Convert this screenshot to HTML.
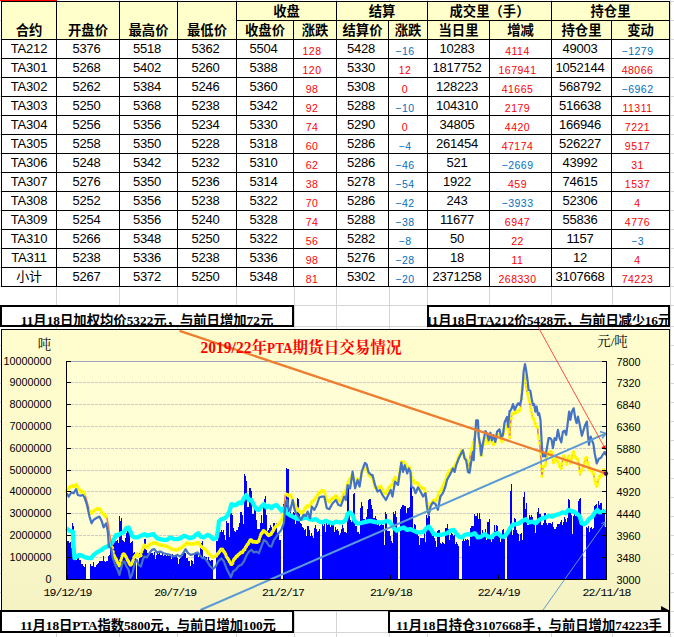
<!DOCTYPE html>
<html lang="zh"><head><meta charset="utf-8"><title>PTA期货日交易情况</title>
<style>
html,body{margin:0;padding:0;background:#fff;}
body{width:674px;height:637px;position:relative;overflow:hidden;font-family:"Liberation Sans","Noto Sans CJK SC",sans-serif;}
.abs{position:absolute;}
.c{position:absolute;box-sizing:border-box;border:1px solid #000;background:#fff;text-align:center;white-space:nowrap;overflow:hidden;font-size:13px;line-height:18px;color:#000;letter-spacing:-0.2px;}
.h{padding-top:1px;background:#ffffcc;font-family:"Liberation Sans","Noto Sans CJK SC",sans-serif;font-weight:bold;font-size:13.33px;letter-spacing:0;}
.n{padding-right:3px;letter-spacing:-0.25px;}
.r{color:#ff0000;font-size:10.5px;letter-spacing:0.5px;line-height:22px;padding-right:6px;}
.b{color:#0070c0;font-size:10.5px;letter-spacing:0.5px;line-height:22px;padding-right:6px;}
.tb{position:absolute;box-sizing:border-box;box-shadow:inset 0 0 0 2px #000;background:#fff;overflow:hidden;}
.tb span{position:absolute;left:50%;transform:translateX(-50%);white-space:nowrap;font-family:"Liberation Serif","Noto Sans CJK SC",sans-serif;font-weight:bold;font-size:13.33px;line-height:14px;color:#000;}
#chart{position:absolute;left:1px;top:329px;width:669px;height:282px;box-sizing:border-box;border:1px solid #000;background:linear-gradient(#fffdcd 0%,#fcfacb 55%,#f5f3c3 100%);}
svg text{font-family:"Liberation Sans","Noto Serif CJK SC",sans-serif;}
</style></head><body>

<svg class="abs" style="left:0;top:0" width="674" height="637" viewBox="0 0 674 637" shape-rendering="crispEdges">
<rect x="56" y="0" width="1" height="637" fill="#d4d4d4"/>
<rect x="119" y="0" width="1" height="637" fill="#d4d4d4"/>
<rect x="177" y="0" width="1" height="637" fill="#d4d4d4"/>
<rect x="236" y="0" width="1" height="637" fill="#d4d4d4"/>
<rect x="294" y="0" width="1" height="637" fill="#d4d4d4"/>
<rect x="336" y="0" width="1" height="637" fill="#d4d4d4"/>
<rect x="389" y="0" width="1" height="637" fill="#d4d4d4"/>
<rect x="427" y="0" width="1" height="637" fill="#d4d4d4"/>
<rect x="489" y="0" width="1" height="637" fill="#d4d4d4"/>
<rect x="551" y="0" width="1" height="637" fill="#d4d4d4"/>
<rect x="612" y="0" width="1" height="637" fill="#d4d4d4"/>
<rect x="670" y="0" width="1" height="637" fill="#d4d4d4"/>
<rect x="0" y="1" width="674" height="1" fill="#d4d4d4"/>
<rect x="0" y="20" width="674" height="1" fill="#d4d4d4"/>
<rect x="0" y="39" width="674" height="1" fill="#d4d4d4"/>
<rect x="0" y="58" width="674" height="1" fill="#d4d4d4"/>
<rect x="0" y="77" width="674" height="1" fill="#d4d4d4"/>
<rect x="0" y="96" width="674" height="1" fill="#d4d4d4"/>
<rect x="0" y="115" width="674" height="1" fill="#d4d4d4"/>
<rect x="0" y="134" width="674" height="1" fill="#d4d4d4"/>
<rect x="0" y="153" width="674" height="1" fill="#d4d4d4"/>
<rect x="0" y="172" width="674" height="1" fill="#d4d4d4"/>
<rect x="0" y="191" width="674" height="1" fill="#d4d4d4"/>
<rect x="0" y="210" width="674" height="1" fill="#d4d4d4"/>
<rect x="0" y="229" width="674" height="1" fill="#d4d4d4"/>
<rect x="0" y="248" width="674" height="1" fill="#d4d4d4"/>
<rect x="0" y="267" width="674" height="1" fill="#d4d4d4"/>
<rect x="0" y="286" width="674" height="1" fill="#d4d4d4"/>
<rect x="0" y="305" width="674" height="1" fill="#d4d4d4"/>
<rect x="0" y="326" width="674" height="1" fill="#d4d4d4"/>
<rect x="0" y="345" width="674" height="1" fill="#d4d4d4"/>
<rect x="0" y="364" width="674" height="1" fill="#d4d4d4"/>
<rect x="0" y="383" width="674" height="1" fill="#d4d4d4"/>
<rect x="0" y="402" width="674" height="1" fill="#d4d4d4"/>
<rect x="0" y="421" width="674" height="1" fill="#d4d4d4"/>
<rect x="0" y="440" width="674" height="1" fill="#d4d4d4"/>
<rect x="0" y="459" width="674" height="1" fill="#d4d4d4"/>
<rect x="0" y="478" width="674" height="1" fill="#d4d4d4"/>
<rect x="0" y="497" width="674" height="1" fill="#d4d4d4"/>
<rect x="0" y="516" width="674" height="1" fill="#d4d4d4"/>
<rect x="0" y="535" width="674" height="1" fill="#d4d4d4"/>
<rect x="0" y="554" width="674" height="1" fill="#d4d4d4"/>
<rect x="0" y="573" width="674" height="1" fill="#d4d4d4"/>
<rect x="0" y="592" width="674" height="1" fill="#d4d4d4"/>
<rect x="0" y="611" width="674" height="1" fill="#d4d4d4"/>
<rect x="0" y="632" width="674" height="1" fill="#d4d4d4"/>
</svg>
<div class="abs" style="left:0;top:0;width:57px;height:1px;background:#ff0000"></div>
<div class="c h" style="left:1px;top:1px;width:56px;height:39px;line-height:57px;padding-top:0;">合约</div>
<div class="c h" style="left:56px;top:1px;width:64px;height:39px;line-height:57px;padding-top:0;">开盘价</div>
<div class="c h" style="left:119px;top:1px;width:59px;height:39px;line-height:57px;padding-top:0;">最高价</div>
<div class="c h" style="left:177px;top:1px;width:60px;height:39px;line-height:57px;padding-top:0;">最低价</div>
<div class="c h" style="left:236px;top:1px;width:101px;height:20px;">收盘</div>
<div class="c h" style="left:336px;top:1px;width:92px;height:20px;">结算</div>
<div class="c h" style="left:427px;top:1px;width:125px;height:20px;">成交里（手）</div>
<div class="c h" style="left:551px;top:1px;width:119px;height:20px;">持仓里</div>
<div class="c h" style="left:236px;top:20px;width:58px;height:20px;">收盘价</div>
<div class="c h" style="left:293px;top:20px;width:44px;height:20px;">涨跌</div>
<div class="c h" style="left:336px;top:20px;width:53px;height:20px;">结算价</div>
<div class="c h" style="left:388px;top:20px;width:40px;height:20px;">涨跌</div>
<div class="c h" style="left:427px;top:20px;width:63px;height:20px;">当日里</div>
<div class="c h" style="left:489px;top:20px;width:63px;height:20px;">增减</div>
<div class="c h" style="left:551px;top:20px;width:61px;height:20px;">持仓里</div>
<div class="c h" style="left:611px;top:20px;width:59px;height:20px;">变动</div>
<div class="c " style="left:1px;top:39px;width:56px;height:20px;">TA212</div>
<div class="c n" style="left:56px;top:39px;width:64px;height:20px;">5376</div>
<div class="c n" style="left:119px;top:39px;width:59px;height:20px;">5518</div>
<div class="c n" style="left:177px;top:39px;width:60px;height:20px;">5362</div>
<div class="c n" style="left:236px;top:39px;width:58px;height:20px;">5504</div>
<div class="c r" style="left:293px;top:39px;width:44px;height:20px;">128</div>
<div class="c n" style="left:336px;top:39px;width:53px;height:20px;">5428</div>
<div class="c b" style="left:388px;top:39px;width:40px;height:20px;">−16</div>
<div class="c n" style="left:427px;top:39px;width:63px;height:20px;">10283</div>
<div class="c r" style="left:489px;top:39px;width:63px;height:20px;">4114</div>
<div class="c n" style="left:551px;top:39px;width:61px;height:20px;">49003</div>
<div class="c b" style="left:611px;top:39px;width:59px;height:20px;">−1279</div>
<div class="c " style="left:1px;top:58px;width:56px;height:20px;">TA301</div>
<div class="c n" style="left:56px;top:58px;width:64px;height:20px;">5268</div>
<div class="c n" style="left:119px;top:58px;width:59px;height:20px;">5402</div>
<div class="c n" style="left:177px;top:58px;width:60px;height:20px;">5260</div>
<div class="c n" style="left:236px;top:58px;width:58px;height:20px;">5388</div>
<div class="c r" style="left:293px;top:58px;width:44px;height:20px;">120</div>
<div class="c n" style="left:336px;top:58px;width:53px;height:20px;">5330</div>
<div class="c r" style="left:388px;top:58px;width:40px;height:20px;">12</div>
<div class="c n" style="left:427px;top:58px;width:63px;height:20px;">1817752</div>
<div class="c r" style="left:489px;top:58px;width:63px;height:20px;">167941</div>
<div class="c n" style="left:551px;top:58px;width:61px;height:20px;">1052144</div>
<div class="c r" style="left:611px;top:58px;width:59px;height:20px;">48066</div>
<div class="c " style="left:1px;top:77px;width:56px;height:20px;">TA302</div>
<div class="c n" style="left:56px;top:77px;width:64px;height:20px;">5262</div>
<div class="c n" style="left:119px;top:77px;width:59px;height:20px;">5384</div>
<div class="c n" style="left:177px;top:77px;width:60px;height:20px;">5246</div>
<div class="c n" style="left:236px;top:77px;width:58px;height:20px;">5360</div>
<div class="c r" style="left:293px;top:77px;width:44px;height:20px;">98</div>
<div class="c n" style="left:336px;top:77px;width:53px;height:20px;">5308</div>
<div class="c r" style="left:388px;top:77px;width:40px;height:20px;">0</div>
<div class="c n" style="left:427px;top:77px;width:63px;height:20px;">128223</div>
<div class="c r" style="left:489px;top:77px;width:63px;height:20px;">41665</div>
<div class="c n" style="left:551px;top:77px;width:61px;height:20px;">568792</div>
<div class="c b" style="left:611px;top:77px;width:59px;height:20px;">−6962</div>
<div class="c " style="left:1px;top:96px;width:56px;height:20px;">TA303</div>
<div class="c n" style="left:56px;top:96px;width:64px;height:20px;">5250</div>
<div class="c n" style="left:119px;top:96px;width:59px;height:20px;">5368</div>
<div class="c n" style="left:177px;top:96px;width:60px;height:20px;">5238</div>
<div class="c n" style="left:236px;top:96px;width:58px;height:20px;">5342</div>
<div class="c r" style="left:293px;top:96px;width:44px;height:20px;">92</div>
<div class="c n" style="left:336px;top:96px;width:53px;height:20px;">5288</div>
<div class="c b" style="left:388px;top:96px;width:40px;height:20px;">−10</div>
<div class="c n" style="left:427px;top:96px;width:63px;height:20px;">104310</div>
<div class="c r" style="left:489px;top:96px;width:63px;height:20px;">2179</div>
<div class="c n" style="left:551px;top:96px;width:61px;height:20px;">516638</div>
<div class="c r" style="left:611px;top:96px;width:59px;height:20px;">11311</div>
<div class="c " style="left:1px;top:115px;width:56px;height:20px;">TA304</div>
<div class="c n" style="left:56px;top:115px;width:64px;height:20px;">5256</div>
<div class="c n" style="left:119px;top:115px;width:59px;height:20px;">5356</div>
<div class="c n" style="left:177px;top:115px;width:60px;height:20px;">5234</div>
<div class="c n" style="left:236px;top:115px;width:58px;height:20px;">5330</div>
<div class="c r" style="left:293px;top:115px;width:44px;height:20px;">74</div>
<div class="c n" style="left:336px;top:115px;width:53px;height:20px;">5290</div>
<div class="c r" style="left:388px;top:115px;width:40px;height:20px;">0</div>
<div class="c n" style="left:427px;top:115px;width:63px;height:20px;">34805</div>
<div class="c r" style="left:489px;top:115px;width:63px;height:20px;">4420</div>
<div class="c n" style="left:551px;top:115px;width:61px;height:20px;">166946</div>
<div class="c r" style="left:611px;top:115px;width:59px;height:20px;">7221</div>
<div class="c " style="left:1px;top:134px;width:56px;height:20px;">TA305</div>
<div class="c n" style="left:56px;top:134px;width:64px;height:20px;">5258</div>
<div class="c n" style="left:119px;top:134px;width:59px;height:20px;">5350</div>
<div class="c n" style="left:177px;top:134px;width:60px;height:20px;">5228</div>
<div class="c n" style="left:236px;top:134px;width:58px;height:20px;">5318</div>
<div class="c r" style="left:293px;top:134px;width:44px;height:20px;">60</div>
<div class="c n" style="left:336px;top:134px;width:53px;height:20px;">5286</div>
<div class="c b" style="left:388px;top:134px;width:40px;height:20px;">−4</div>
<div class="c n" style="left:427px;top:134px;width:63px;height:20px;">261454</div>
<div class="c r" style="left:489px;top:134px;width:63px;height:20px;">47174</div>
<div class="c n" style="left:551px;top:134px;width:61px;height:20px;">526227</div>
<div class="c r" style="left:611px;top:134px;width:59px;height:20px;">9517</div>
<div class="c " style="left:1px;top:153px;width:56px;height:20px;">TA306</div>
<div class="c n" style="left:56px;top:153px;width:64px;height:20px;">5248</div>
<div class="c n" style="left:119px;top:153px;width:59px;height:20px;">5342</div>
<div class="c n" style="left:177px;top:153px;width:60px;height:20px;">5232</div>
<div class="c n" style="left:236px;top:153px;width:58px;height:20px;">5310</div>
<div class="c r" style="left:293px;top:153px;width:44px;height:20px;">62</div>
<div class="c n" style="left:336px;top:153px;width:53px;height:20px;">5286</div>
<div class="c b" style="left:388px;top:153px;width:40px;height:20px;">−46</div>
<div class="c n" style="left:427px;top:153px;width:63px;height:20px;">521</div>
<div class="c b" style="left:489px;top:153px;width:63px;height:20px;">−2669</div>
<div class="c n" style="left:551px;top:153px;width:61px;height:20px;">43992</div>
<div class="c r" style="left:611px;top:153px;width:59px;height:20px;">31</div>
<div class="c " style="left:1px;top:172px;width:56px;height:20px;">TA307</div>
<div class="c n" style="left:56px;top:172px;width:64px;height:20px;">5276</div>
<div class="c n" style="left:119px;top:172px;width:59px;height:20px;">5350</div>
<div class="c n" style="left:177px;top:172px;width:60px;height:20px;">5236</div>
<div class="c n" style="left:236px;top:172px;width:58px;height:20px;">5314</div>
<div class="c r" style="left:293px;top:172px;width:44px;height:20px;">38</div>
<div class="c n" style="left:336px;top:172px;width:53px;height:20px;">5278</div>
<div class="c b" style="left:388px;top:172px;width:40px;height:20px;">−54</div>
<div class="c n" style="left:427px;top:172px;width:63px;height:20px;">1922</div>
<div class="c r" style="left:489px;top:172px;width:63px;height:20px;">459</div>
<div class="c n" style="left:551px;top:172px;width:61px;height:20px;">74615</div>
<div class="c r" style="left:611px;top:172px;width:59px;height:20px;">1537</div>
<div class="c " style="left:1px;top:191px;width:56px;height:20px;">TA308</div>
<div class="c n" style="left:56px;top:191px;width:64px;height:20px;">5252</div>
<div class="c n" style="left:119px;top:191px;width:59px;height:20px;">5356</div>
<div class="c n" style="left:177px;top:191px;width:60px;height:20px;">5238</div>
<div class="c n" style="left:236px;top:191px;width:58px;height:20px;">5322</div>
<div class="c r" style="left:293px;top:191px;width:44px;height:20px;">70</div>
<div class="c n" style="left:336px;top:191px;width:53px;height:20px;">5286</div>
<div class="c b" style="left:388px;top:191px;width:40px;height:20px;">−42</div>
<div class="c n" style="left:427px;top:191px;width:63px;height:20px;">243</div>
<div class="c b" style="left:489px;top:191px;width:63px;height:20px;">−3933</div>
<div class="c n" style="left:551px;top:191px;width:61px;height:20px;">52306</div>
<div class="c r" style="left:611px;top:191px;width:59px;height:20px;">4</div>
<div class="c " style="left:1px;top:210px;width:56px;height:20px;">TA309</div>
<div class="c n" style="left:56px;top:210px;width:64px;height:20px;">5254</div>
<div class="c n" style="left:119px;top:210px;width:59px;height:20px;">5356</div>
<div class="c n" style="left:177px;top:210px;width:60px;height:20px;">5240</div>
<div class="c n" style="left:236px;top:210px;width:58px;height:20px;">5328</div>
<div class="c r" style="left:293px;top:210px;width:44px;height:20px;">74</div>
<div class="c n" style="left:336px;top:210px;width:53px;height:20px;">5288</div>
<div class="c b" style="left:388px;top:210px;width:40px;height:20px;">−38</div>
<div class="c n" style="left:427px;top:210px;width:63px;height:20px;">11677</div>
<div class="c r" style="left:489px;top:210px;width:63px;height:20px;">6947</div>
<div class="c n" style="left:551px;top:210px;width:61px;height:20px;">55836</div>
<div class="c r" style="left:611px;top:210px;width:59px;height:20px;">4776</div>
<div class="c " style="left:1px;top:229px;width:56px;height:20px;">TA310</div>
<div class="c n" style="left:56px;top:229px;width:64px;height:20px;">5266</div>
<div class="c n" style="left:119px;top:229px;width:59px;height:20px;">5348</div>
<div class="c n" style="left:177px;top:229px;width:60px;height:20px;">5250</div>
<div class="c n" style="left:236px;top:229px;width:58px;height:20px;">5322</div>
<div class="c r" style="left:293px;top:229px;width:44px;height:20px;">56</div>
<div class="c n" style="left:336px;top:229px;width:53px;height:20px;">5282</div>
<div class="c b" style="left:388px;top:229px;width:40px;height:20px;">−8</div>
<div class="c n" style="left:427px;top:229px;width:63px;height:20px;">50</div>
<div class="c r" style="left:489px;top:229px;width:63px;height:20px;">22</div>
<div class="c n" style="left:551px;top:229px;width:61px;height:20px;">1157</div>
<div class="c b" style="left:611px;top:229px;width:59px;height:20px;">−3</div>
<div class="c " style="left:1px;top:248px;width:56px;height:20px;">TA311</div>
<div class="c n" style="left:56px;top:248px;width:64px;height:20px;">5238</div>
<div class="c n" style="left:119px;top:248px;width:59px;height:20px;">5336</div>
<div class="c n" style="left:177px;top:248px;width:60px;height:20px;">5238</div>
<div class="c n" style="left:236px;top:248px;width:58px;height:20px;">5336</div>
<div class="c r" style="left:293px;top:248px;width:44px;height:20px;">98</div>
<div class="c n" style="left:336px;top:248px;width:53px;height:20px;">5276</div>
<div class="c b" style="left:388px;top:248px;width:40px;height:20px;">−28</div>
<div class="c n" style="left:427px;top:248px;width:63px;height:20px;">18</div>
<div class="c r" style="left:489px;top:248px;width:63px;height:20px;">11</div>
<div class="c n" style="left:551px;top:248px;width:61px;height:20px;">12</div>
<div class="c r" style="left:611px;top:248px;width:59px;height:20px;">4</div>
<div class="c " style="left:1px;top:267px;width:56px;height:20px;">小计</div>
<div class="c n" style="left:56px;top:267px;width:64px;height:20px;">5267</div>
<div class="c n" style="left:119px;top:267px;width:59px;height:20px;">5372</div>
<div class="c n" style="left:177px;top:267px;width:60px;height:20px;">5250</div>
<div class="c n" style="left:236px;top:267px;width:58px;height:20px;">5348</div>
<div class="c r" style="left:293px;top:267px;width:44px;height:20px;">81</div>
<div class="c n" style="left:336px;top:267px;width:53px;height:20px;">5302</div>
<div class="c b" style="left:388px;top:267px;width:40px;height:20px;">−20</div>
<div class="c n" style="left:427px;top:267px;width:63px;height:20px;">2371258</div>
<div class="c r" style="left:489px;top:267px;width:63px;height:20px;">268330</div>
<div class="c n" style="left:551px;top:267px;width:61px;height:20px;">3107668</div>
<div class="c r" style="left:611px;top:267px;width:59px;height:20px;">74223</div>
<div id="chart"></div>
<svg class="abs" style="left:0;top:0" width="674" height="637" viewBox="0 0 674 637">
<rect x="67" y="361" width="539" height="218" fill="#fffed4"/>
<line x1="67" y1="361.5" x2="606" y2="361.5" stroke="#9aa4bf" stroke-width="1"/>
<line x1="67" y1="382.5" x2="606" y2="382.5" stroke="#cbcbce" stroke-width="1" stroke-dasharray="3 1" shape-rendering="crispEdges"/>
<line x1="67" y1="404.5" x2="606" y2="404.5" stroke="#cbcbce" stroke-width="1" stroke-dasharray="3 1" shape-rendering="crispEdges"/>
<line x1="67" y1="426.5" x2="606" y2="426.5" stroke="#cbcbce" stroke-width="1" stroke-dasharray="3 1" shape-rendering="crispEdges"/>
<line x1="67" y1="448.5" x2="606" y2="448.5" stroke="#cbcbce" stroke-width="1" stroke-dasharray="3 1" shape-rendering="crispEdges"/>
<line x1="67" y1="470.5" x2="606" y2="470.5" stroke="#cbcbce" stroke-width="1" stroke-dasharray="3 1" shape-rendering="crispEdges"/>
<line x1="67" y1="491.5" x2="606" y2="491.5" stroke="#cbcbce" stroke-width="1" stroke-dasharray="3 1" shape-rendering="crispEdges"/>
<line x1="67" y1="513.5" x2="606" y2="513.5" stroke="#cbcbce" stroke-width="1" stroke-dasharray="3 1" shape-rendering="crispEdges"/>
<line x1="67" y1="535.5" x2="606" y2="535.5" stroke="#cbcbce" stroke-width="1" stroke-dasharray="3 1" shape-rendering="crispEdges"/>
<line x1="67" y1="557.5" x2="606" y2="557.5" stroke="#cbcbce" stroke-width="1" stroke-dasharray="3 1" shape-rendering="crispEdges"/>
<path d="M67.00 579V540.6h0.9V579zM67.77 579V541.2h0.9V579zM68.54 579V545.8h0.9V579zM69.31 579V543.2h0.9V579zM70.08 579V542.0h0.9V579zM70.85 579V547.8h0.9V579zM71.62 579V529.8h0.9V579zM72.39 579V523.4h0.9V579zM73.16 579V526.3h0.9V579zM73.93 579V556.2h0.9V579zM74.70 579V557.6h0.9V579zM75.47 579V564.8h0.9V579zM76.24 579V559.6h0.9V579zM77.01 579V557.9h0.9V579zM77.78 579V558.0h0.9V579zM78.55 579V558.8h0.9V579zM79.32 579V560.3h0.9V579zM80.09 579V560.4h0.9V579zM80.86 579V563.5h0.9V579zM81.63 579V568.1h0.9V579zM82.40 579V563.7h0.9V579zM83.17 579V565.8h0.9V579zM83.94 579V566.6h0.9V579zM84.71 579V564.3h0.9V579zM85.48 579V564.4h0.9V579zM90.10 579V564.2h0.9V579zM90.87 579V565.7h0.9V579zM91.64 579V565.9h0.9V579zM92.41 579V566.1h0.9V579zM93.18 579V561.8h0.9V579zM93.95 579V567.2h0.9V579zM94.72 579V567.4h0.9V579zM95.49 579V568.7h0.9V579zM96.26 579V565.4h0.9V579zM97.03 579V563.7h0.9V579zM97.80 579V563.2h0.9V579zM98.57 579V563.9h0.9V579zM99.34 579V561.1h0.9V579zM100.11 579V560.5h0.9V579zM100.88 579V560.8h0.9V579zM101.65 579V561.1h0.9V579zM102.42 579V560.6h0.9V579zM103.19 579V555.8h0.9V579zM103.96 579V560.8h0.9V579zM104.73 579V561.6h0.9V579zM105.50 579V560.3h0.9V579zM106.27 579V561.0h0.9V579zM107.04 579V561.2h0.9V579zM107.81 579V556.1h0.9V579zM108.58 579V551.2h0.9V579zM109.35 579V555.2h0.9V579zM110.12 579V547.3h0.9V579zM110.89 579V543.9h0.9V579zM111.66 579V539.2h0.9V579zM112.43 579V541.1h0.9V579zM113.20 579V538.5h0.9V579zM113.97 579V537.3h0.9V579zM114.74 579V540.6h0.9V579zM115.51 579V540.9h0.9V579zM116.28 579V540.5h0.9V579zM117.05 579V540.2h0.9V579zM117.82 579V543.4h0.9V579zM118.59 579V540.4h0.9V579zM119.36 579V516.0h0.9V579zM120.13 579V521.2h0.9V579zM120.90 579V518.1h0.9V579zM121.67 579V544.1h0.9V579zM122.44 579V540.0h0.9V579zM123.21 579V541.2h0.9V579zM123.98 579V541.6h0.9V579zM124.75 579V538.1h0.9V579zM125.52 579V531.7h0.9V579zM126.29 579V532.8h0.9V579zM127.06 579V531.2h0.9V579zM127.83 579V531.5h0.9V579zM128.60 579V530.2h0.9V579zM129.37 579V541.4h0.9V579zM130.14 579V542.6h0.9V579zM130.91 579V542.0h0.9V579zM131.68 579V540.8h0.9V579zM132.45 579V555.2h0.9V579zM133.22 579V553.2h0.9V579zM133.99 579V551.5h0.9V579zM134.76 579V556.4h0.9V579zM137.07 579V562.4h0.9V579zM137.84 579V562.3h0.9V579zM138.61 579V557.0h0.9V579zM139.38 579V553.4h0.9V579zM140.15 579V556.1h0.9V579zM140.92 579V555.6h0.9V579zM141.69 579V551.7h0.9V579zM142.46 579V546.2h0.9V579zM143.23 579V549.1h0.9V579zM144.00 579V539.0h0.9V579zM144.77 579V538.5h0.9V579zM145.54 579V543.4h0.9V579zM146.31 579V549.9h0.9V579zM147.08 579V552.6h0.9V579zM147.85 579V554.4h0.9V579zM148.62 579V553.3h0.9V579zM149.39 579V553.7h0.9V579zM150.16 579V552.9h0.9V579zM150.93 579V552.5h0.9V579zM151.70 579V553.5h0.9V579zM152.47 579V552.6h0.9V579zM153.24 579V555.4h0.9V579zM154.01 579V551.8h0.9V579zM154.78 579V558.8h0.9V579zM155.55 579V553.7h0.9V579zM156.32 579V554.6h0.9V579zM157.09 579V552.4h0.9V579zM157.86 579V554.3h0.9V579zM158.63 579V558.4h0.9V579zM159.40 579V553.3h0.9V579zM160.17 579V554.6h0.9V579zM160.94 579V555.2h0.9V579zM161.71 579V552.9h0.9V579zM162.48 579V551.5h0.9V579zM163.25 579V555.7h0.9V579zM164.02 579V555.2h0.9V579zM164.79 579V555.4h0.9V579zM165.56 579V550.6h0.9V579zM166.33 579V555.6h0.9V579zM167.10 579V554.9h0.9V579zM167.87 579V556.2h0.9V579zM168.64 579V555.8h0.9V579zM169.41 579V555.6h0.9V579zM170.18 579V554.3h0.9V579zM170.95 579V558.7h0.9V579zM171.72 579V555.2h0.9V579zM172.49 579V554.3h0.9V579zM173.26 579V555.3h0.9V579zM174.03 579V556.7h0.9V579zM174.80 579V556.4h0.9V579zM175.57 579V556.8h0.9V579zM176.34 579V555.7h0.9V579zM177.11 579V557.5h0.9V579zM177.88 579V563.6h0.9V579zM178.65 579V558.5h0.9V579zM179.42 579V558.8h0.9V579zM180.19 579V557.6h0.9V579zM180.96 579V556.8h0.9V579zM181.73 579V556.2h0.9V579zM182.50 579V556.1h0.9V579zM183.27 579V554.3h0.9V579zM184.04 579V552.5h0.9V579zM184.81 579V552.7h0.9V579zM185.58 579V550.3h0.9V579zM186.35 579V558.0h0.9V579zM187.12 579V557.8h0.9V579zM187.89 579V560.6h0.9V579zM188.66 579V562.2h0.9V579zM189.43 579V561.3h0.9V579zM190.20 579V566.1h0.9V579zM190.97 579V560.3h0.9V579zM191.74 579V561.0h0.9V579zM192.51 579V561.8h0.9V579zM193.28 579V563.5h0.9V579zM194.05 579V555.3h0.9V579zM194.82 579V554.3h0.9V579zM195.59 579V550.7h0.9V579zM196.36 579V554.1h0.9V579zM197.13 579V554.4h0.9V579zM197.90 579V557.2h0.9V579zM198.67 579V556.3h0.9V579zM199.44 579V555.8h0.9V579zM200.21 579V547.6h0.9V579zM200.98 579V543.1h0.9V579zM201.75 579V541.1h0.9V579zM202.52 579V551.9h0.9V579zM203.29 579V559.1h0.9V579zM204.06 579V556.2h0.9V579zM204.83 579V557.1h0.9V579zM205.60 579V559.5h0.9V579zM206.37 579V556.9h0.9V579zM207.14 579V559.5h0.9V579zM207.91 579V557.2h0.9V579zM208.68 579V559.8h0.9V579zM209.45 579V559.5h0.9V579zM210.22 579V560.9h0.9V579zM210.99 579V559.7h0.9V579zM211.76 579V559.9h0.9V579zM212.53 579V561.4h0.9V579zM215.61 579V543.3h0.9V579zM216.38 579V541.2h0.9V579zM217.15 579V541.0h0.9V579zM217.92 579V536.7h0.9V579zM218.69 579V532.4h0.9V579zM219.46 579V530.5h0.9V579zM220.23 579V532.2h0.9V579zM221.00 579V529.5h0.9V579zM221.77 579V532.0h0.9V579zM222.54 579V532.0h0.9V579zM223.31 579V530.4h0.9V579zM224.08 579V535.2h0.9V579zM224.85 579V539.7h0.9V579zM225.62 579V521.4h0.9V579zM226.39 579V523.1h0.9V579zM227.16 579V523.3h0.9V579zM227.93 579V522.5h0.9V579zM228.70 579V537.0h0.9V579zM229.47 579V536.5h0.9V579zM230.24 579V512.4h0.9V579zM231.01 579V512.6h0.9V579zM231.78 579V514.7h0.9V579zM232.55 579V511.7h0.9V579zM233.32 579V528.2h0.9V579zM234.09 579V530.6h0.9V579zM234.86 579V532.4h0.9V579zM235.63 579V533.6h0.9V579zM236.40 579V530.1h0.9V579zM237.17 579V530.4h0.9V579zM237.94 579V527.3h0.9V579zM238.71 579V533.6h0.9V579zM239.48 579V523.3h0.9V579zM240.25 579V511.9h0.9V579zM241.02 579V511.5h0.9V579zM241.79 579V515.1h0.9V579zM242.56 579V526.4h0.9V579zM243.33 579V523.7h0.9V579zM244.10 579V473.9h0.9V579zM244.87 579V475.9h0.9V579zM245.64 579V480.7h0.9V579zM246.41 579V514.8h0.9V579zM247.18 579V506.9h0.9V579zM247.95 579V507.4h0.9V579zM248.72 579V525.4h0.9V579zM249.49 579V487.5h0.9V579zM250.26 579V487.6h0.9V579zM251.03 579V490.9h0.9V579zM251.80 579V513.6h0.9V579zM252.57 579V514.9h0.9V579zM253.34 579V513.8h0.9V579zM254.11 579V509.2h0.9V579zM254.88 579V508.5h0.9V579zM255.65 579V523.6h0.9V579zM256.42 579V520.1h0.9V579zM257.19 579V529.1h0.9V579zM257.96 579V529.0h0.9V579zM258.73 579V529.4h0.9V579zM259.50 579V536.4h0.9V579zM260.27 579V523.3h0.9V579zM261.04 579V514.7h0.9V579zM261.81 579V523.1h0.9V579zM262.58 579V515.5h0.9V579zM263.35 579V501.9h0.9V579zM264.12 579V498.6h0.9V579zM264.89 579V495.9h0.9V579zM265.66 579V517.9h0.9V579zM266.43 579V514.9h0.9V579zM267.20 579V530.5h0.9V579zM267.97 579V529.7h0.9V579zM268.74 579V527.9h0.9V579zM269.51 579V520.0h0.9V579zM270.28 579V525.1h0.9V579zM271.05 579V527.4h0.9V579zM271.82 579V529.7h0.9V579zM272.59 579V530.5h0.9V579zM273.36 579V522.8h0.9V579zM274.13 579V522.5h0.9V579zM274.90 579V527.1h0.9V579zM275.67 579V522.5h0.9V579zM276.44 579V527.6h0.9V579zM277.21 579V532.5h0.9V579zM277.98 579V531.7h0.9V579zM278.75 579V539.5h0.9V579zM279.52 579V543.5h0.9V579zM280.29 579V539.6h0.9V579zM283.37 579V503.9h0.9V579zM284.14 579V503.8h0.9V579zM284.91 579V504.3h0.9V579zM285.68 579V491.7h0.9V579zM286.45 579V468.0h0.9V579zM287.22 579V469.4h0.9V579zM287.99 579V469.1h0.9V579zM288.76 579V513.0h0.9V579zM289.53 579V511.8h0.9V579zM290.30 579V512.2h0.9V579zM291.07 579V514.4h0.9V579zM291.84 579V514.4h0.9V579zM292.61 579V512.2h0.9V579zM293.38 579V514.1h0.9V579zM294.15 579V513.2h0.9V579zM294.92 579V523.6h0.9V579zM295.69 579V520.0h0.9V579zM296.46 579V520.9h0.9V579zM297.23 579V498.1h0.9V579zM298.00 579V498.8h0.9V579zM298.77 579V509.7h0.9V579zM299.54 579V533.1h0.9V579zM300.31 579V522.5h0.9V579zM301.08 579V523.8h0.9V579zM301.85 579V526.8h0.9V579zM302.62 579V536.7h0.9V579zM303.39 579V527.5h0.9V579zM304.16 579V529.9h0.9V579zM304.93 579V529.0h0.9V579zM305.70 579V542.4h0.9V579zM306.47 579V535.8h0.9V579zM307.24 579V525.9h0.9V579zM308.01 579V526.0h0.9V579zM308.78 579V529.8h0.9V579zM309.55 579V537.8h0.9V579zM310.32 579V536.0h0.9V579zM311.09 579V532.6h0.9V579zM311.86 579V535.6h0.9V579zM312.63 579V539.3h0.9V579zM313.40 579V538.1h0.9V579zM314.17 579V528.1h0.9V579zM314.94 579V525.1h0.9V579zM315.71 579V528.8h0.9V579zM316.48 579V529.5h0.9V579zM317.25 579V532.1h0.9V579zM318.02 579V531.3h0.9V579zM318.79 579V529.0h0.9V579zM319.56 579V532.4h0.9V579zM321.87 579V523.2h0.9V579zM322.64 579V525.5h0.9V579zM323.41 579V525.5h0.9V579zM324.18 579V524.0h0.9V579zM324.95 579V531.8h0.9V579zM325.72 579V520.6h0.9V579zM326.49 579V525.9h0.9V579zM327.26 579V524.8h0.9V579zM328.03 579V524.1h0.9V579zM328.80 579V524.1h0.9V579zM329.57 579V528.9h0.9V579zM330.34 579V526.6h0.9V579zM331.11 579V524.2h0.9V579zM331.88 579V520.5h0.9V579zM332.65 579V521.5h0.9V579zM333.42 579V531.8h0.9V579zM334.19 579V531.8h0.9V579zM334.96 579V527.1h0.9V579zM335.73 579V529.8h0.9V579zM336.50 579V529.0h0.9V579zM337.27 579V528.5h0.9V579zM338.04 579V530.8h0.9V579zM338.81 579V535.3h0.9V579zM339.58 579V536.2h0.9V579zM340.35 579V533.0h0.9V579zM341.12 579V529.2h0.9V579zM341.89 579V525.2h0.9V579zM342.66 579V528.0h0.9V579zM343.43 579V528.3h0.9V579zM344.20 579V532.0h0.9V579zM344.97 579V532.2h0.9V579zM345.74 579V532.5h0.9V579zM346.51 579V488.3h0.9V579zM347.28 579V484.0h0.9V579zM348.05 579V487.3h0.9V579zM348.82 579V514.7h0.9V579zM349.59 579V523.0h0.9V579zM350.36 579V519.7h0.9V579zM351.13 579V521.9h0.9V579zM351.90 579V518.8h0.9V579zM352.67 579V495.4h0.9V579zM353.44 579V493.9h0.9V579zM354.21 579V492.8h0.9V579zM354.98 579V525.8h0.9V579zM355.75 579V525.9h0.9V579zM356.52 579V526.9h0.9V579zM357.29 579V531.7h0.9V579zM358.06 579V532.3h0.9V579zM358.83 579V533.5h0.9V579zM359.60 579V509.6h0.9V579zM360.37 579V508.1h0.9V579zM361.14 579V502.3h0.9V579zM361.91 579V506.3h0.9V579zM362.68 579V518.5h0.9V579zM363.45 579V523.0h0.9V579zM364.22 579V518.7h0.9V579zM364.99 579V519.6h0.9V579zM365.76 579V516.5h0.9V579zM366.53 579V516.8h0.9V579zM367.30 579V508.9h0.9V579zM368.07 579V500.2h0.9V579zM368.84 579V498.5h0.9V579zM369.61 579V499.2h0.9V579zM370.38 579V500.3h0.9V579zM371.15 579V505.1h0.9V579zM371.92 579V509.0h0.9V579zM372.69 579V518.0h0.9V579zM373.46 579V518.9h0.9V579zM374.23 579V518.4h0.9V579zM375.00 579V516.4h0.9V579zM375.77 579V519.1h0.9V579zM376.54 579V519.7h0.9V579zM377.31 579V524.7h0.9V579zM378.08 579V520.7h0.9V579zM378.85 579V526.2h0.9V579zM379.62 579V525.4h0.9V579zM380.39 579V526.2h0.9V579zM381.16 579V524.0h0.9V579zM381.93 579V525.0h0.9V579zM382.70 579V524.9h0.9V579zM383.47 579V524.8h0.9V579zM384.24 579V545.4h0.9V579zM385.01 579V512.3h0.9V579zM385.78 579V514.3h0.9V579zM386.55 579V510.8h0.9V579zM387.32 579V531.1h0.9V579zM388.09 579V530.9h0.9V579zM388.86 579V531.3h0.9V579zM389.63 579V535.5h0.9V579zM390.40 579V536.0h0.9V579zM391.17 579V540.9h0.9V579zM391.94 579V543.2h0.9V579zM392.71 579V532.9h0.9V579zM393.48 579V512.4h0.9V579zM394.25 579V513.7h0.9V579zM395.02 579V511.2h0.9V579zM395.79 579V517.2h0.9V579zM396.56 579V517.8h0.9V579zM397.33 579V530.5h0.9V579zM399.64 579V527.4h0.9V579zM400.41 579V509.0h0.9V579zM401.18 579V506.7h0.9V579zM401.95 579V504.8h0.9V579zM402.72 579V505.2h0.9V579zM403.49 579V505.0h0.9V579zM404.26 579V506.2h0.9V579zM405.03 579V505.5h0.9V579zM405.80 579V513.2h0.9V579zM406.57 579V513.7h0.9V579zM407.34 579V508.1h0.9V579zM408.11 579V508.0h0.9V579zM408.88 579V506.9h0.9V579zM409.65 579V525.5h0.9V579zM410.42 579V473.4h0.9V579zM411.19 579V472.6h0.9V579zM411.96 579V496.0h0.9V579zM412.73 579V528.1h0.9V579zM413.50 579V527.8h0.9V579zM414.27 579V523.5h0.9V579zM415.04 579V525.2h0.9V579zM415.81 579V530.3h0.9V579zM416.58 579V535.4h0.9V579zM417.35 579V533.5h0.9V579zM418.12 579V535.9h0.9V579zM418.89 579V544.6h0.9V579zM419.66 579V537.9h0.9V579zM420.43 579V537.8h0.9V579zM421.20 579V537.6h0.9V579zM421.97 579V537.8h0.9V579zM422.74 579V538.0h0.9V579zM423.51 579V536.0h0.9V579zM424.28 579V529.8h0.9V579zM425.05 579V541.8h0.9V579zM425.82 579V514.9h0.9V579zM426.59 579V517.4h0.9V579zM427.36 579V518.3h0.9V579zM428.13 579V514.8h0.9V579zM428.90 579V516.1h0.9V579zM429.67 579V531.2h0.9V579zM430.44 579V533.1h0.9V579zM431.21 579V533.4h0.9V579zM431.98 579V536.2h0.9V579zM432.75 579V531.8h0.9V579zM433.52 579V537.1h0.9V579zM434.29 579V537.8h0.9V579zM435.06 579V541.1h0.9V579zM435.83 579V547.3h0.9V579zM436.60 579V534.3h0.9V579zM437.37 579V531.0h0.9V579zM438.14 579V530.2h0.9V579zM438.91 579V529.9h0.9V579zM439.68 579V542.5h0.9V579zM440.45 579V549.1h0.9V579zM441.22 579V544.0h0.9V579zM441.99 579V541.6h0.9V579zM442.76 579V543.4h0.9V579zM443.53 579V543.0h0.9V579zM444.30 579V544.2h0.9V579zM445.07 579V528.2h0.9V579zM445.84 579V528.3h0.9V579zM446.61 579V530.5h0.9V579zM447.38 579V524.4h0.9V579zM448.15 579V529.4h0.9V579zM448.92 579V539.7h0.9V579zM449.69 579V534.7h0.9V579zM450.46 579V535.2h0.9V579zM451.23 579V533.0h0.9V579zM452.00 579V533.7h0.9V579zM452.77 579V535.8h0.9V579zM453.54 579V534.5h0.9V579zM454.31 579V535.1h0.9V579zM455.08 579V543.8h0.9V579zM455.85 579V542.0h0.9V579zM456.62 579V543.8h0.9V579zM457.39 579V546.3h0.9V579zM458.16 579V545.8h0.9V579zM462.01 579V540.8h0.9V579zM462.78 579V538.8h0.9V579zM463.55 579V541.0h0.9V579zM464.32 579V540.7h0.9V579zM465.09 579V539.2h0.9V579zM465.86 579V540.3h0.9V579zM466.63 579V545.7h0.9V579zM467.40 579V538.6h0.9V579zM468.17 579V539.5h0.9V579zM468.94 579V545.5h0.9V579zM469.71 579V548.6h0.9V579zM470.48 579V527.7h0.9V579zM471.25 579V525.6h0.9V579zM472.02 579V526.0h0.9V579zM472.79 579V526.3h0.9V579zM473.56 579V531.0h0.9V579zM474.33 579V514.3h0.9V579zM475.10 579V516.0h0.9V579zM475.87 579V516.2h0.9V579zM476.64 579V518.3h0.9V579zM477.41 579V512.6h0.9V579zM478.18 579V518.6h0.9V579zM478.95 579V513.0h0.9V579zM479.72 579V518.6h0.9V579zM480.49 579V533.6h0.9V579zM481.26 579V534.4h0.9V579zM482.03 579V530.3h0.9V579zM482.80 579V532.8h0.9V579zM483.57 579V534.7h0.9V579zM484.34 579V532.6h0.9V579zM485.11 579V529.3h0.9V579zM485.88 579V539.6h0.9V579zM486.65 579V534.4h0.9V579zM487.42 579V521.6h0.9V579zM488.19 579V522.2h0.9V579zM488.96 579V519.4h0.9V579zM489.73 579V538.1h0.9V579zM490.50 579V539.2h0.9V579zM491.27 579V541.7h0.9V579zM492.04 579V537.4h0.9V579zM492.81 579V539.0h0.9V579zM493.58 579V532.3h0.9V579zM494.35 579V524.8h0.9V579zM495.12 579V530.6h0.9V579zM495.89 579V525.2h0.9V579zM496.66 579V525.8h0.9V579zM497.43 579V535.1h0.9V579zM498.20 579V535.2h0.9V579zM498.97 579V536.7h0.9V579zM499.74 579V541.7h0.9V579zM500.51 579V537.7h0.9V579zM501.28 579V534.2h0.9V579zM502.05 579V529.8h0.9V579zM502.82 579V529.4h0.9V579zM503.59 579V537.2h0.9V579zM504.36 579V539.1h0.9V579zM506.67 579V549.2h0.9V579zM507.44 579V532.3h0.9V579zM508.21 579V532.7h0.9V579zM508.98 579V532.0h0.9V579zM509.75 579V490.9h0.9V579zM510.52 579V483.2h0.9V579zM511.29 579V483.5h0.9V579zM512.06 579V535.1h0.9V579zM512.83 579V530.3h0.9V579zM513.60 579V518.3h0.9V579zM514.37 579V518.2h0.9V579zM515.14 579V519.2h0.9V579zM515.91 579V529.5h0.9V579zM516.68 579V533.3h0.9V579zM517.45 579V539.4h0.9V579zM518.22 579V534.2h0.9V579zM518.99 579V541.0h0.9V579zM519.76 579V534.1h0.9V579zM520.53 579V533.6h0.9V579zM521.30 579V532.7h0.9V579zM522.07 579V540.1h0.9V579zM522.84 579V496.7h0.9V579zM523.61 579V491.9h0.9V579zM524.38 579V496.7h0.9V579zM525.15 579V509.4h0.9V579zM525.92 579V502.5h0.9V579zM526.69 579V525.3h0.9V579zM527.46 579V528.6h0.9V579zM528.23 579V524.7h0.9V579zM529.00 579V514.6h0.9V579zM529.77 579V517.3h0.9V579zM530.54 579V517.8h0.9V579zM531.31 579V514.8h0.9V579zM532.08 579V516.9h0.9V579zM532.85 579V523.8h0.9V579zM533.62 579V528.2h0.9V579zM534.39 579V525.1h0.9V579zM535.16 579V532.9h0.9V579zM535.93 579V525.4h0.9V579zM536.70 579V512.0h0.9V579zM537.47 579V513.4h0.9V579zM538.24 579V507.8h0.9V579zM539.01 579V513.6h0.9V579zM539.78 579V513.5h0.9V579zM540.55 579V522.2h0.9V579zM541.32 579V524.8h0.9V579zM542.09 579V525.4h0.9V579zM542.86 579V523.3h0.9V579zM543.63 579V513.0h0.9V579zM544.40 579V515.9h0.9V579zM545.17 579V513.1h0.9V579zM545.94 579V522.6h0.9V579zM546.71 579V524.5h0.9V579zM547.48 579V528.3h0.9V579zM548.25 579V523.3h0.9V579zM549.02 579V522.5h0.9V579zM549.79 579V523.2h0.9V579zM550.56 579V523.4h0.9V579zM551.33 579V524.2h0.9V579zM552.10 579V521.7h0.9V579zM552.87 579V526.5h0.9V579zM553.64 579V529.9h0.9V579zM554.41 579V529.4h0.9V579zM555.18 579V529.1h0.9V579zM555.95 579V526.8h0.9V579zM556.72 579V524.4h0.9V579zM557.49 579V524.8h0.9V579zM558.26 579V523.7h0.9V579zM559.03 579V524.1h0.9V579zM559.80 579V522.1h0.9V579zM560.57 579V519.9h0.9V579zM561.34 579V520.1h0.9V579zM562.11 579V524.8h0.9V579zM562.88 579V521.5h0.9V579zM563.65 579V516.6h0.9V579zM564.42 579V533.5h0.9V579zM565.19 579V519.4h0.9V579zM565.96 579V522.1h0.9V579zM566.73 579V517.8h0.9V579zM567.50 579V499.0h0.9V579zM568.27 579V499.0h0.9V579zM569.04 579V500.3h0.9V579zM569.81 579V510.3h0.9V579zM570.58 579V517.0h0.9V579zM571.35 579V514.7h0.9V579zM572.12 579V533.9h0.9V579zM572.89 579V516.1h0.9V579zM573.66 579V513.0h0.9V579zM574.43 579V521.8h0.9V579zM575.20 579V515.6h0.9V579zM575.97 579V514.3h0.9V579zM576.74 579V513.0h0.9V579zM577.51 579V518.5h0.9V579zM578.28 579V500.7h0.9V579zM579.05 579V499.4h0.9V579zM579.82 579V498.2h0.9V579zM580.59 579V504.2h0.9V579zM581.36 579V524.7h0.9V579zM582.13 579V522.9h0.9V579zM585.98 579V527.1h0.9V579zM586.75 579V528.0h0.9V579zM587.52 579V528.8h0.9V579zM588.29 579V525.8h0.9V579zM589.06 579V531.7h0.9V579zM589.83 579V528.2h0.9V579zM590.60 579V526.6h0.9V579zM591.37 579V526.7h0.9V579zM592.14 579V529.2h0.9V579zM592.91 579V528.2h0.9V579zM593.68 579V506.4h0.9V579zM594.45 579V510.2h0.9V579zM595.22 579V504.9h0.9V579zM595.99 579V503.8h0.9V579zM596.76 579V512.5h0.9V579zM597.53 579V515.3h0.9V579zM598.30 579V501.4h0.9V579zM599.07 579V504.6h0.9V579zM599.84 579V502.8h0.9V579zM600.61 579V502.9h0.9V579zM601.38 579V517.2h0.9V579zM602.15 579V510.3h0.9V579zM602.92 579V508.8h0.9V579zM603.69 579V509.9h0.9V579zM604.46 579V525.1h0.9V579zM605.23 579V526.7h0.9V579zM606.00 579V523.2h0.9V579z" fill="#0000ff" shape-rendering="crispEdges"/>
<path d="M66.2 528.3 L69.5 530.7 L72.8 531.6 L73.6 546.6 L74.5 558.2 L77.0 556.5 L79.5 554.9 L82.0 555.7 L85.3 557.4 L88.6 558.2 L91.1 558.2 L93.6 554.9 L96.9 552.4 L100.3 550.7 L103.6 548.2 L106.9 546.6 L110.3 545.7 L112.8 541.6 L114.4 538.2 L116.1 534.9 L118.6 534.9 L121.1 533.2 L123.6 532.4 L126.1 528.3 L128.6 527.4 L130.2 530.7 L131.9 535.7 L134.4 537.4 L137.7 537.4 L141.0 535.7 L144.4 534.1 L146.9 535.7 L150.2 534.9 L153.5 534.1 L156.9 538.2 L160.2 539.1 L163.5 539.9 L166.8 539.9 L170.2 537.4 L174.0 539.1 L177.3 539.1 L180.7 538.2 L184.0 535.7 L186.5 536.6 L189.8 538.2 L193.1 537.4 L195.6 534.9 L198.1 533.2 L200.6 536.6 L204.0 537.4 L207.3 534.9 L209.8 535.7 L213.1 539.1 L216.4 538.2 L218.1 529.9 L218.9 521.6 L221.4 519.1 L224.8 518.3 L227.3 515.8 L229.7 510.8 L231.4 504.1 L233.9 505.0 L236.4 505.0 L238.9 502.5 L241.4 503.3 L243.9 498.3 L246.4 495.0 L248.9 500.0 L251.4 500.0 L253.9 505.0 L256.4 509.1 L258.9 509.9 L261.4 506.6 L263.9 504.1 L266.4 507.5 L268.9 505.8 L271.4 508.3 L273.9 505.8 L276.3 505.0 L278.8 507.5 L281.3 510.8 L283.8 508.3 L286.0 509.1 L286.0 512.4 L289.3 514.9 L292.7 516.6 L296.0 518.3 L299.3 519.1 L302.6 518.3 L306.0 517.4 L309.3 519.1 L312.6 519.9 L316.0 519.1 L319.3 521.6 L322.6 522.4 L325.9 520.8 L329.3 522.4 L332.6 523.3 L335.9 521.6 L339.3 522.4 L342.6 522.4 L345.9 519.9 L347.6 514.1 L350.1 512.4 L352.6 514.9 L354.2 519.9 L356.7 523.3 L360.1 523.3 L363.4 522.4 L366.7 521.6 L370.0 520.8 L373.4 521.6 L376.7 522.4 L380.0 522.4 L383.4 522.4 L386.7 520.8 L389.2 521.6 L391.7 524.9 L394.2 528.3 L396.7 530.7 L398.0 529.9 L401.3 528.3 L403.8 527.4 L407.2 529.9 L410.5 529.1 L413.8 530.7 L417.1 532.4 L420.5 532.4 L423.8 531.6 L426.3 528.3 L428.8 526.6 L431.3 529.9 L433.8 534.1 L437.1 534.9 L440.4 534.9 L443.8 534.1 L447.1 533.2 L450.4 530.7 L453.7 529.9 L456.2 533.2 L458.7 536.6 L462.1 537.4 L464.6 534.9 L467.9 534.1 L471.2 534.9 L474.6 533.2 L477.9 537.4 L481.2 536.6 L484.5 534.1 L487.9 536.6 L491.2 537.4 L494.5 534.1 L497.9 533.2 L501.2 536.6 L504.5 536.6 L507.8 532.4 L510.0 528.3 L512.5 524.9 L515.8 524.1 L519.2 523.3 L522.5 520.8 L525.8 519.1 L529.1 522.4 L532.5 521.6 L535.8 523.3 L539.1 519.9 L542.5 518.3 L545.8 517.4 L549.1 515.8 L552.4 516.6 L555.8 514.9 L559.1 514.1 L562.4 512.4 L565.7 513.3 L568.2 509.9 L570.7 510.8 L574.1 511.6 L577.4 514.1 L579.9 516.6 L581.6 523.3 L584.1 524.1 L586.6 522.4 L589.0 519.1 L592.4 516.6 L594.9 512.4 L597.4 509.9 L599.9 512.4 L603.2 511.6 L606.2 511.6" fill="none" stroke="#00ffff" stroke-width="4.3" stroke-linejoin="round" stroke-linecap="butt"/>
<path d="M66.2 491.6 L69.5 487.5 L72.0 485.3 L74.5 486.3 L76.1 484.2 L77.8 487.5 L80.3 491.6 L82.8 490.8 L84.5 493.3 L87.0 501.6 L89.5 510.8 L91.1 513.3 L93.6 510.8 L96.1 509.1 L99.4 508.3 L101.9 512.4 L104.4 515.8 L106.6 516.6 L108.3 524.9 L109.4 533.2 L111.1 541.6 L112.8 549.9 L114.4 556.5 L116.1 559.0 L117.7 563.2 L119.4 565.7 L121.1 559.9 L122.7 554.9 L124.4 554.0 L126.1 556.5 L127.7 559.9 L129.4 563.2 L131.1 565.7 L132.7 561.5 L134.4 556.5 L136.9 553.2 L138.6 556.5 L141.0 554.9 L142.7 548.2 L144.4 544.9 L146.9 548.2 L149.4 544.9 L151.9 543.2 L154.4 542.4 L156.9 544.1 L160.2 544.9 L163.5 545.7 L166.8 546.6 L170.2 548.2 L174.0 549.9 L177.3 549.9 L180.7 548.2 L184.0 545.7 L186.5 543.2 L189.8 543.2 L193.1 544.1 L196.5 543.2 L199.0 542.4 L201.5 547.4 L204.8 549.1 L207.3 551.6 L209.8 554.9 L213.1 557.4 L216.4 555.7 L219.8 550.7 L222.3 549.1 L224.8 553.2 L227.3 558.2 L229.7 561.5 L231.4 564.9 L233.9 559.9 L236.4 556.5 L239.7 553.2 L242.2 552.4 L244.7 549.1 L247.2 544.9 L250.6 539.9 L253.0 541.6 L256.4 542.4 L258.9 540.7 L261.4 533.2 L263.9 530.7 L266.4 532.4 L268.9 535.7 L272.2 532.4 L274.7 527.4 L277.2 524.9 L279.7 524.1 L282.2 518.3 L283.8 513.3 L285.2 495.0 L286.0 493.3 L287.3 495.0 L288.5 495.8 L291.0 495.0 L293.5 503.3 L296.0 506.6 L298.5 510.8 L301.0 513.3 L303.5 510.8 L306.8 505.8 L309.3 506.6 L311.8 501.6 L314.3 500.0 L316.8 495.8 L319.3 493.3 L321.8 490.8 L324.3 491.6 L326.8 500.0 L329.3 501.6 L332.6 498.3 L335.9 495.8 L338.4 500.0 L340.9 501.6 L343.4 493.3 L345.9 490.0 L348.4 480.8 L350.9 478.3 L352.6 474.2 L355.1 485.0 L357.6 478.3 L359.6 483.3 L361.7 473.3 L363.4 469.2 L365.0 465.8 L366.7 467.5 L368.4 474.2 L370.0 475.8 L372.5 477.5 L375.0 488.3 L377.5 487.5 L380.9 486.6 L383.4 491.6 L385.9 493.3 L389.2 487.5 L392.5 483.3 L395.0 476.7 L398.0 481.7 L399.7 471.9 L401.3 461.9 L404.7 462.7 L407.2 468.5 L409.6 466.9 L412.1 478.5 L414.6 483.2 L417.1 482.3 L419.6 486.5 L422.1 488.2 L424.6 489.0 L426.3 496.5 L428.0 508.1 L429.6 510.6 L431.3 503.1 L433.8 499.8 L436.3 501.5 L438.8 493.2 L441.3 489.8 L443.8 484.8 L446.3 478.2 L447.9 473.5 L450.4 470.2 L452.9 468.5 L456.2 463.5 L458.7 456.9 L462.1 450.2 L464.6 456.9 L467.1 461.9 L468.7 470.2 L470.4 453.5 L472.9 445.2 L474.6 435.2 L476.2 426.9 L477.9 426.9 L479.2 441.9 L480.4 453.5 L481.5 456.0 L483.2 445.2 L485.4 436.9 L487.9 443.6 L490.4 437.7 L493.7 445.2 L496.2 438.6 L499.5 434.4 L502.0 441.9 L504.5 428.6 L506.2 425.3 L508.7 430.2 L510.0 438.6 L510.0 428.2 L511.7 414.9 L513.3 413.2 L515.8 412.4 L518.3 409.9 L520.3 410.7 L521.6 394.1 L522.5 385.0 L524.1 375.0 L525.8 385.0 L527.5 394.1 L529.1 399.1 L530.8 408.3 L532.5 416.6 L534.1 419.9 L535.8 426.6 L537.5 426.6 L538.3 436.5 L539.6 441.5 L540.8 458.2 L541.0 458.0 L541.4 468.7 L542.0 476.1 L543.4 467.4 L545.4 464.7 L547.4 455.4 L550.0 451.4 L552.0 452.7 L553.4 463.4 L555.4 459.4 L557.4 460.7 L559.4 465.4 L561.4 468.1 L563.4 455.4 L565.4 459.4 L566.7 464.0 L568.7 455.4 L570.7 463.4 L573.4 451.4 L574.7 456.7 L576.7 458.7 L578.1 459.4 L579.4 468.7 L580.1 474.7 L581.4 470.1 L583.4 466.1 L585.4 458.7 L586.8 457.4 L587.4 462.7 L589.4 468.7 L591.4 470.7 L593.4 472.7 L594.8 480.7 L596.8 486.7 L598.1 480.7 L599.4 476.1 L601.4 476.1 L603.4 470.1 L604.8 469.4" fill="none" stroke="#ed7d31" stroke-width="1.5" stroke-linejoin="round"/>
<g fill="#ffff00"><circle cx="66.2" cy="491.1" r="1.7"/><circle cx="66.9" cy="490.3" r="1.7"/><circle cx="67.7" cy="489.3" r="1.7"/><circle cx="68.5" cy="489.1" r="1.7"/><circle cx="69.2" cy="487.4" r="1.7"/><circle cx="70.0" cy="486.7" r="1.7"/><circle cx="70.8" cy="486.6" r="1.7"/><circle cx="71.6" cy="486.2" r="1.7"/><circle cx="72.3" cy="485.7" r="1.7"/><circle cx="73.1" cy="486.3" r="1.7"/><circle cx="73.9" cy="486.5" r="1.7"/><circle cx="74.6" cy="486.2" r="1.7"/><circle cx="75.4" cy="485.6" r="1.7"/><circle cx="76.2" cy="484.2" r="1.7"/><circle cx="76.9" cy="485.5" r="1.7"/><circle cx="77.7" cy="487.5" r="1.7"/><circle cx="78.5" cy="488.6" r="1.7"/><circle cx="79.3" cy="489.8" r="1.7"/><circle cx="80.0" cy="490.6" r="1.7"/><circle cx="80.8" cy="492.0" r="1.7"/><circle cx="81.6" cy="491.8" r="1.7"/><circle cx="82.3" cy="491.1" r="1.7"/><circle cx="83.1" cy="491.6" r="1.7"/><circle cx="83.9" cy="492.6" r="1.7"/><circle cx="84.6" cy="494.2" r="1.7"/><circle cx="89.3" cy="510.4" r="1.7"/><circle cx="90.0" cy="511.4" r="1.7"/><circle cx="90.8" cy="512.4" r="1.7"/><circle cx="91.6" cy="513.4" r="1.7"/><circle cx="92.3" cy="512.6" r="1.7"/><circle cx="93.1" cy="511.5" r="1.7"/><circle cx="93.9" cy="511.1" r="1.7"/><circle cx="94.7" cy="510.2" r="1.7"/><circle cx="95.4" cy="509.8" r="1.7"/><circle cx="96.2" cy="509.3" r="1.7"/><circle cx="97.0" cy="508.6" r="1.7"/><circle cx="97.7" cy="509.0" r="1.7"/><circle cx="98.5" cy="509.0" r="1.7"/><circle cx="99.3" cy="508.9" r="1.7"/><circle cx="100.0" cy="509.0" r="1.7"/><circle cx="100.8" cy="510.0" r="1.7"/><circle cx="101.6" cy="512.3" r="1.7"/><circle cx="102.4" cy="512.9" r="1.7"/><circle cx="103.1" cy="513.5" r="1.7"/><circle cx="103.9" cy="514.7" r="1.7"/><circle cx="104.7" cy="516.3" r="1.7"/><circle cx="105.4" cy="516.5" r="1.7"/><circle cx="106.2" cy="515.9" r="1.7"/><circle cx="112.4" cy="547.8" r="1.7"/><circle cx="113.1" cy="551.8" r="1.7"/><circle cx="113.9" cy="554.9" r="1.7"/><circle cx="114.7" cy="556.7" r="1.7"/><circle cx="115.4" cy="558.4" r="1.7"/><circle cx="116.2" cy="559.3" r="1.7"/><circle cx="117.0" cy="561.2" r="1.7"/><circle cx="117.8" cy="563.1" r="1.7"/><circle cx="118.5" cy="564.1" r="1.7"/><circle cx="119.3" cy="565.7" r="1.7"/><circle cx="120.1" cy="563.6" r="1.7"/><circle cx="120.8" cy="560.2" r="1.7"/><circle cx="121.6" cy="558.0" r="1.7"/><circle cx="122.4" cy="555.6" r="1.7"/><circle cx="123.1" cy="554.1" r="1.7"/><circle cx="123.9" cy="553.9" r="1.7"/><circle cx="124.7" cy="554.7" r="1.7"/><circle cx="125.5" cy="556.1" r="1.7"/><circle cx="126.2" cy="557.1" r="1.7"/><circle cx="127.0" cy="559.0" r="1.7"/><circle cx="127.8" cy="560.5" r="1.7"/><circle cx="128.5" cy="561.4" r="1.7"/><circle cx="129.3" cy="563.2" r="1.7"/><circle cx="130.1" cy="564.7" r="1.7"/><circle cx="130.8" cy="564.8" r="1.7"/><circle cx="131.6" cy="563.9" r="1.7"/><circle cx="132.4" cy="562.3" r="1.7"/><circle cx="133.2" cy="560.3" r="1.7"/><circle cx="133.9" cy="557.6" r="1.7"/><circle cx="134.7" cy="556.7" r="1.7"/><circle cx="135.5" cy="555.5" r="1.7"/><circle cx="136.2" cy="554.7" r="1.7"/><circle cx="137.0" cy="553.8" r="1.7"/><circle cx="137.8" cy="554.6" r="1.7"/><circle cx="138.5" cy="556.2" r="1.7"/><circle cx="139.3" cy="556.2" r="1.7"/><circle cx="140.1" cy="555.2" r="1.7"/><circle cx="140.9" cy="555.5" r="1.7"/><circle cx="141.6" cy="552.1" r="1.7"/><circle cx="142.4" cy="549.5" r="1.7"/><circle cx="143.2" cy="547.8" r="1.7"/><circle cx="143.9" cy="545.4" r="1.7"/><circle cx="144.7" cy="545.2" r="1.7"/><circle cx="145.5" cy="546.3" r="1.7"/><circle cx="146.2" cy="547.7" r="1.7"/><circle cx="147.0" cy="547.7" r="1.7"/><circle cx="147.8" cy="546.6" r="1.7"/><circle cx="148.6" cy="545.9" r="1.7"/><circle cx="149.3" cy="545.0" r="1.7"/><circle cx="150.1" cy="544.0" r="1.7"/><circle cx="150.9" cy="544.1" r="1.7"/><circle cx="151.6" cy="543.8" r="1.7"/><circle cx="152.4" cy="543.2" r="1.7"/><circle cx="153.2" cy="542.8" r="1.7"/><circle cx="153.9" cy="542.6" r="1.7"/><circle cx="154.7" cy="543.1" r="1.7"/><circle cx="155.5" cy="542.8" r="1.7"/><circle cx="156.3" cy="543.6" r="1.7"/><circle cx="157.0" cy="543.8" r="1.7"/><circle cx="157.8" cy="544.5" r="1.7"/><circle cx="158.6" cy="544.1" r="1.7"/><circle cx="159.3" cy="544.2" r="1.7"/><circle cx="160.1" cy="545.2" r="1.7"/><circle cx="160.9" cy="544.6" r="1.7"/><circle cx="161.6" cy="545.4" r="1.7"/><circle cx="162.4" cy="545.6" r="1.7"/><circle cx="163.2" cy="545.2" r="1.7"/><circle cx="164.0" cy="546.2" r="1.7"/><circle cx="164.7" cy="545.6" r="1.7"/><circle cx="165.5" cy="546.0" r="1.7"/><circle cx="166.3" cy="546.2" r="1.7"/><circle cx="167.0" cy="546.4" r="1.7"/><circle cx="167.8" cy="546.6" r="1.7"/><circle cx="168.6" cy="547.5" r="1.7"/><circle cx="169.3" cy="547.6" r="1.7"/><circle cx="170.1" cy="548.2" r="1.7"/><circle cx="170.9" cy="548.3" r="1.7"/><circle cx="171.7" cy="549.3" r="1.7"/><circle cx="172.4" cy="549.5" r="1.7"/><circle cx="173.2" cy="549.4" r="1.7"/><circle cx="174.0" cy="549.6" r="1.7"/><circle cx="174.7" cy="549.6" r="1.7"/><circle cx="175.5" cy="550.0" r="1.7"/><circle cx="176.3" cy="549.7" r="1.7"/><circle cx="177.0" cy="550.0" r="1.7"/><circle cx="177.8" cy="549.1" r="1.7"/><circle cx="178.6" cy="548.9" r="1.7"/><circle cx="179.4" cy="549.0" r="1.7"/><circle cx="180.1" cy="548.8" r="1.7"/><circle cx="180.9" cy="547.7" r="1.7"/><circle cx="181.7" cy="547.5" r="1.7"/><circle cx="182.4" cy="547.2" r="1.7"/><circle cx="183.2" cy="546.0" r="1.7"/><circle cx="184.0" cy="545.3" r="1.7"/><circle cx="184.7" cy="544.9" r="1.7"/><circle cx="185.5" cy="544.4" r="1.7"/><circle cx="186.3" cy="543.2" r="1.7"/><circle cx="187.1" cy="542.7" r="1.7"/><circle cx="187.8" cy="543.7" r="1.7"/><circle cx="188.6" cy="543.7" r="1.7"/><circle cx="189.4" cy="543.7" r="1.7"/><circle cx="190.1" cy="543.4" r="1.7"/><circle cx="190.9" cy="544.1" r="1.7"/><circle cx="191.7" cy="544.2" r="1.7"/><circle cx="192.4" cy="543.6" r="1.7"/><circle cx="193.2" cy="544.1" r="1.7"/><circle cx="194.0" cy="544.0" r="1.7"/><circle cx="194.8" cy="543.5" r="1.7"/><circle cx="195.5" cy="542.9" r="1.7"/><circle cx="196.3" cy="543.7" r="1.7"/><circle cx="197.1" cy="542.6" r="1.7"/><circle cx="197.8" cy="543.2" r="1.7"/><circle cx="198.6" cy="542.4" r="1.7"/><circle cx="199.4" cy="543.8" r="1.7"/><circle cx="200.1" cy="544.9" r="1.7"/><circle cx="200.9" cy="546.3" r="1.7"/><circle cx="201.7" cy="546.9" r="1.7"/><circle cx="202.5" cy="547.4" r="1.7"/><circle cx="203.2" cy="548.3" r="1.7"/><circle cx="204.0" cy="548.5" r="1.7"/><circle cx="204.8" cy="548.9" r="1.7"/><circle cx="205.5" cy="549.8" r="1.7"/><circle cx="206.3" cy="551.0" r="1.7"/><circle cx="207.1" cy="551.1" r="1.7"/><circle cx="207.8" cy="552.7" r="1.7"/><circle cx="208.6" cy="553.6" r="1.7"/><circle cx="209.4" cy="554.2" r="1.7"/><circle cx="210.2" cy="554.7" r="1.7"/><circle cx="210.9" cy="555.6" r="1.7"/><circle cx="211.7" cy="556.7" r="1.7"/><circle cx="212.5" cy="557.3" r="1.7"/><circle cx="213.2" cy="556.7" r="1.7"/><circle cx="214.0" cy="556.8" r="1.7"/><circle cx="214.8" cy="556.4" r="1.7"/><circle cx="215.5" cy="556.1" r="1.7"/><circle cx="216.3" cy="555.9" r="1.7"/><circle cx="217.1" cy="554.5" r="1.7"/><circle cx="217.9" cy="553.5" r="1.7"/><circle cx="218.6" cy="552.9" r="1.7"/><circle cx="219.4" cy="551.8" r="1.7"/><circle cx="220.2" cy="550.6" r="1.7"/><circle cx="220.9" cy="549.3" r="1.7"/><circle cx="221.7" cy="549.8" r="1.7"/><circle cx="222.5" cy="549.3" r="1.7"/><circle cx="223.2" cy="550.7" r="1.7"/><circle cx="224.0" cy="551.7" r="1.7"/><circle cx="224.8" cy="552.7" r="1.7"/><circle cx="225.6" cy="554.3" r="1.7"/><circle cx="226.3" cy="556.5" r="1.7"/><circle cx="227.1" cy="557.6" r="1.7"/><circle cx="227.9" cy="558.7" r="1.7"/><circle cx="228.6" cy="559.7" r="1.7"/><circle cx="229.4" cy="561.5" r="1.7"/><circle cx="230.2" cy="562.5" r="1.7"/><circle cx="230.9" cy="564.1" r="1.7"/><circle cx="231.7" cy="564.4" r="1.7"/><circle cx="232.5" cy="563.3" r="1.7"/><circle cx="233.3" cy="561.0" r="1.7"/><circle cx="234.0" cy="559.3" r="1.7"/><circle cx="234.8" cy="558.7" r="1.7"/><circle cx="235.6" cy="557.8" r="1.7"/><circle cx="236.3" cy="556.3" r="1.7"/><circle cx="237.1" cy="556.4" r="1.7"/><circle cx="237.9" cy="555.3" r="1.7"/><circle cx="238.6" cy="554.5" r="1.7"/><circle cx="239.4" cy="554.0" r="1.7"/><circle cx="240.2" cy="553.2" r="1.7"/><circle cx="241.0" cy="552.3" r="1.7"/><circle cx="241.7" cy="552.6" r="1.7"/><circle cx="242.5" cy="552.6" r="1.7"/><circle cx="243.3" cy="550.6" r="1.7"/><circle cx="244.0" cy="549.8" r="1.7"/><circle cx="244.8" cy="549.5" r="1.7"/><circle cx="245.6" cy="547.3" r="1.7"/><circle cx="246.3" cy="546.4" r="1.7"/><circle cx="247.1" cy="544.8" r="1.7"/><circle cx="247.9" cy="544.2" r="1.7"/><circle cx="248.7" cy="542.7" r="1.7"/><circle cx="249.4" cy="541.4" r="1.7"/><circle cx="250.2" cy="539.9" r="1.7"/><circle cx="251.0" cy="540.3" r="1.7"/><circle cx="251.7" cy="540.1" r="1.7"/><circle cx="252.5" cy="541.8" r="1.7"/><circle cx="253.3" cy="542.1" r="1.7"/><circle cx="254.0" cy="541.4" r="1.7"/><circle cx="254.8" cy="541.7" r="1.7"/><circle cx="255.6" cy="542.0" r="1.7"/><circle cx="256.4" cy="542.3" r="1.7"/><circle cx="257.1" cy="542.4" r="1.7"/><circle cx="257.9" cy="541.1" r="1.7"/><circle cx="258.7" cy="541.2" r="1.7"/><circle cx="259.4" cy="539.0" r="1.7"/><circle cx="260.2" cy="536.6" r="1.7"/><circle cx="261.0" cy="534.2" r="1.7"/><circle cx="261.7" cy="533.2" r="1.7"/><circle cx="262.5" cy="532.3" r="1.7"/><circle cx="263.3" cy="530.8" r="1.7"/><circle cx="264.1" cy="530.9" r="1.7"/><circle cx="264.8" cy="531.9" r="1.7"/><circle cx="265.6" cy="532.1" r="1.7"/><circle cx="266.4" cy="532.6" r="1.7"/><circle cx="267.1" cy="534.0" r="1.7"/><circle cx="267.9" cy="534.7" r="1.7"/><circle cx="268.7" cy="535.6" r="1.7"/><circle cx="269.4" cy="534.9" r="1.7"/><circle cx="270.2" cy="534.5" r="1.7"/><circle cx="271.0" cy="534.2" r="1.7"/><circle cx="271.8" cy="532.5" r="1.7"/><circle cx="272.5" cy="531.7" r="1.7"/><circle cx="273.3" cy="530.5" r="1.7"/><circle cx="274.1" cy="529.0" r="1.7"/><circle cx="274.8" cy="527.5" r="1.7"/><circle cx="275.6" cy="526.8" r="1.7"/><circle cx="276.4" cy="526.3" r="1.7"/><circle cx="277.1" cy="525.0" r="1.7"/><circle cx="277.9" cy="524.9" r="1.7"/><circle cx="278.7" cy="524.6" r="1.7"/><circle cx="279.5" cy="524.3" r="1.7"/><circle cx="280.2" cy="522.3" r="1.7"/><circle cx="281.0" cy="520.4" r="1.7"/><circle cx="281.8" cy="519.8" r="1.7"/><circle cx="282.5" cy="517.5" r="1.7"/><circle cx="283.3" cy="514.9" r="1.7"/><circle cx="286.4" cy="494.1" r="1.7"/><circle cx="287.2" cy="494.8" r="1.7"/><circle cx="287.9" cy="495.0" r="1.7"/><circle cx="288.7" cy="495.9" r="1.7"/><circle cx="289.5" cy="495.7" r="1.7"/><circle cx="290.2" cy="495.5" r="1.7"/><circle cx="291.0" cy="494.6" r="1.7"/><circle cx="291.8" cy="497.9" r="1.7"/><circle cx="292.5" cy="499.6" r="1.7"/><circle cx="293.3" cy="502.4" r="1.7"/><circle cx="294.1" cy="503.7" r="1.7"/><circle cx="294.9" cy="505.7" r="1.7"/><circle cx="295.6" cy="505.7" r="1.7"/><circle cx="296.4" cy="507.7" r="1.7"/><circle cx="297.2" cy="508.8" r="1.7"/><circle cx="297.9" cy="509.4" r="1.7"/><circle cx="298.7" cy="510.9" r="1.7"/><circle cx="299.5" cy="511.3" r="1.7"/><circle cx="300.2" cy="512.0" r="1.7"/><circle cx="301.0" cy="513.3" r="1.7"/><circle cx="301.8" cy="512.9" r="1.7"/><circle cx="302.6" cy="511.6" r="1.7"/><circle cx="303.3" cy="511.5" r="1.7"/><circle cx="304.1" cy="510.4" r="1.7"/><circle cx="304.9" cy="508.7" r="1.7"/><circle cx="305.6" cy="507.7" r="1.7"/><circle cx="306.4" cy="506.4" r="1.7"/><circle cx="307.2" cy="505.6" r="1.7"/><circle cx="307.9" cy="506.5" r="1.7"/><circle cx="308.7" cy="506.8" r="1.7"/><circle cx="309.5" cy="505.8" r="1.7"/><circle cx="310.3" cy="505.2" r="1.7"/><circle cx="311.0" cy="503.7" r="1.7"/><circle cx="311.8" cy="502.0" r="1.7"/><circle cx="312.6" cy="501.2" r="1.7"/><circle cx="313.3" cy="500.6" r="1.7"/><circle cx="314.1" cy="500.5" r="1.7"/><circle cx="314.9" cy="498.9" r="1.7"/><circle cx="315.6" cy="497.7" r="1.7"/><circle cx="316.4" cy="497.0" r="1.7"/><circle cx="317.2" cy="495.8" r="1.7"/><circle cx="318.0" cy="494.2" r="1.7"/><circle cx="318.7" cy="493.3" r="1.7"/><circle cx="319.5" cy="492.5" r="1.7"/><circle cx="320.3" cy="492.7" r="1.7"/><circle cx="321.0" cy="491.4" r="1.7"/><circle cx="321.8" cy="490.5" r="1.7"/><circle cx="322.6" cy="491.2" r="1.7"/><circle cx="323.3" cy="491.0" r="1.7"/><circle cx="324.1" cy="491.0" r="1.7"/><circle cx="324.9" cy="493.1" r="1.7"/><circle cx="325.7" cy="496.1" r="1.7"/><circle cx="326.4" cy="498.5" r="1.7"/><circle cx="327.2" cy="500.0" r="1.7"/><circle cx="328.0" cy="501.2" r="1.7"/><circle cx="328.7" cy="501.1" r="1.7"/><circle cx="329.5" cy="501.9" r="1.7"/><circle cx="330.3" cy="500.6" r="1.7"/><circle cx="331.0" cy="499.5" r="1.7"/><circle cx="331.8" cy="498.7" r="1.7"/><circle cx="332.6" cy="498.1" r="1.7"/><circle cx="333.4" cy="498.2" r="1.7"/><circle cx="334.1" cy="497.6" r="1.7"/><circle cx="334.9" cy="496.4" r="1.7"/><circle cx="335.7" cy="495.8" r="1.7"/><circle cx="336.4" cy="496.1" r="1.7"/><circle cx="337.2" cy="497.4" r="1.7"/><circle cx="338.0" cy="499.3" r="1.7"/><circle cx="338.7" cy="500.0" r="1.7"/><circle cx="339.5" cy="500.3" r="1.7"/><circle cx="340.3" cy="501.3" r="1.7"/><circle cx="341.1" cy="500.9" r="1.7"/><circle cx="341.8" cy="499.0" r="1.7"/><circle cx="342.6" cy="496.3" r="1.7"/><circle cx="343.4" cy="492.9" r="1.7"/><circle cx="344.1" cy="492.9" r="1.7"/><circle cx="344.9" cy="491.6" r="1.7"/><circle cx="345.7" cy="490.5" r="1.7"/><circle cx="346.4" cy="488.0" r="1.7"/><circle cx="347.2" cy="484.8" r="1.7"/><circle cx="348.0" cy="482.7" r="1.7"/><circle cx="348.8" cy="480.0" r="1.7"/><circle cx="349.5" cy="480.0" r="1.7"/><circle cx="350.3" cy="478.6" r="1.7"/><circle cx="351.1" cy="478.1" r="1.7"/><circle cx="351.8" cy="476.3" r="1.7"/><circle cx="352.6" cy="474.0" r="1.7"/><circle cx="353.4" cy="477.7" r="1.7"/><circle cx="354.1" cy="480.6" r="1.7"/><circle cx="354.9" cy="483.9" r="1.7"/><circle cx="355.7" cy="483.7" r="1.7"/><circle cx="356.5" cy="480.7" r="1.7"/><circle cx="357.2" cy="478.9" r="1.7"/><circle cx="358.0" cy="479.7" r="1.7"/><circle cx="358.8" cy="480.9" r="1.7"/><circle cx="359.5" cy="483.4" r="1.7"/><circle cx="360.3" cy="479.3" r="1.7"/><circle cx="361.1" cy="476.1" r="1.7"/><circle cx="361.8" cy="472.5" r="1.7"/><circle cx="362.6" cy="471.6" r="1.7"/><circle cx="363.4" cy="468.8" r="1.7"/><circle cx="364.2" cy="468.0" r="1.7"/><circle cx="364.9" cy="465.9" r="1.7"/><circle cx="365.7" cy="466.7" r="1.7"/><circle cx="366.5" cy="467.2" r="1.7"/><circle cx="367.2" cy="469.4" r="1.7"/><circle cx="368.0" cy="472.2" r="1.7"/><circle cx="368.8" cy="474.6" r="1.7"/><circle cx="369.5" cy="475.5" r="1.7"/><circle cx="370.3" cy="475.8" r="1.7"/><circle cx="371.1" cy="476.7" r="1.7"/><circle cx="371.9" cy="477.5" r="1.7"/><circle cx="372.6" cy="478.4" r="1.7"/><circle cx="373.4" cy="481.2" r="1.7"/><circle cx="374.2" cy="484.6" r="1.7"/><circle cx="374.9" cy="487.4" r="1.7"/><circle cx="375.7" cy="487.5" r="1.7"/><circle cx="376.5" cy="488.3" r="1.7"/><circle cx="377.2" cy="487.6" r="1.7"/><circle cx="378.0" cy="487.5" r="1.7"/><circle cx="378.8" cy="486.8" r="1.7"/><circle cx="379.6" cy="487.4" r="1.7"/><circle cx="380.3" cy="486.3" r="1.7"/><circle cx="381.1" cy="487.0" r="1.7"/><circle cx="381.9" cy="489.1" r="1.7"/><circle cx="382.6" cy="490.0" r="1.7"/><circle cx="383.4" cy="492.1" r="1.7"/><circle cx="384.2" cy="492.7" r="1.7"/><circle cx="384.9" cy="492.1" r="1.7"/><circle cx="385.7" cy="493.6" r="1.7"/><circle cx="386.5" cy="492.4" r="1.7"/><circle cx="387.3" cy="490.9" r="1.7"/><circle cx="388.0" cy="489.3" r="1.7"/><circle cx="388.8" cy="488.0" r="1.7"/><circle cx="389.6" cy="486.9" r="1.7"/><circle cx="390.3" cy="486.2" r="1.7"/><circle cx="391.1" cy="485.7" r="1.7"/><circle cx="391.9" cy="484.7" r="1.7"/><circle cx="392.6" cy="483.2" r="1.7"/><circle cx="393.4" cy="480.7" r="1.7"/><circle cx="394.2" cy="479.4" r="1.7"/><circle cx="395.0" cy="477.3" r="1.7"/><circle cx="395.7" cy="477.9" r="1.7"/><circle cx="396.5" cy="479.4" r="1.7"/><circle cx="397.3" cy="479.9" r="1.7"/><circle cx="398.0" cy="481.9" r="1.7"/><circle cx="398.8" cy="477.5" r="1.7"/><circle cx="399.6" cy="472.2" r="1.7"/><circle cx="400.3" cy="468.2" r="1.7"/><circle cx="401.1" cy="462.7" r="1.7"/><circle cx="401.9" cy="461.7" r="1.7"/><circle cx="402.7" cy="462.3" r="1.7"/><circle cx="403.4" cy="462.6" r="1.7"/><circle cx="404.2" cy="462.1" r="1.7"/><circle cx="405.0" cy="463.4" r="1.7"/><circle cx="405.7" cy="464.9" r="1.7"/><circle cx="406.5" cy="466.9" r="1.7"/><circle cx="407.3" cy="469.0" r="1.7"/><circle cx="408.0" cy="467.7" r="1.7"/><circle cx="408.8" cy="467.3" r="1.7"/><circle cx="409.6" cy="467.4" r="1.7"/><circle cx="410.4" cy="470.2" r="1.7"/><circle cx="411.1" cy="473.2" r="1.7"/><circle cx="411.9" cy="477.8" r="1.7"/><circle cx="412.7" cy="479.9" r="1.7"/><circle cx="413.4" cy="480.5" r="1.7"/><circle cx="414.2" cy="482.8" r="1.7"/><circle cx="415.0" cy="483.1" r="1.7"/><circle cx="415.7" cy="482.6" r="1.7"/><circle cx="416.5" cy="482.6" r="1.7"/><circle cx="417.3" cy="482.9" r="1.7"/><circle cx="418.1" cy="483.8" r="1.7"/><circle cx="418.8" cy="485.0" r="1.7"/><circle cx="419.6" cy="486.5" r="1.7"/><circle cx="420.4" cy="486.4" r="1.7"/><circle cx="421.1" cy="487.7" r="1.7"/><circle cx="421.9" cy="488.1" r="1.7"/><circle cx="422.7" cy="488.0" r="1.7"/><circle cx="423.4" cy="488.4" r="1.7"/><circle cx="424.2" cy="488.7" r="1.7"/><circle cx="425.0" cy="490.8" r="1.7"/><circle cx="425.8" cy="493.5" r="1.7"/><circle cx="426.5" cy="497.5" r="1.7"/><circle cx="427.3" cy="503.2" r="1.7"/><circle cx="428.1" cy="507.8" r="1.7"/><circle cx="428.8" cy="509.9" r="1.7"/><circle cx="429.6" cy="510.7" r="1.7"/><circle cx="430.4" cy="507.8" r="1.7"/><circle cx="431.1" cy="504.2" r="1.7"/><circle cx="431.9" cy="502.9" r="1.7"/><circle cx="432.7" cy="501.8" r="1.7"/><circle cx="433.5" cy="500.4" r="1.7"/><circle cx="434.2" cy="500.3" r="1.7"/><circle cx="435.0" cy="500.3" r="1.7"/><circle cx="435.8" cy="500.6" r="1.7"/><circle cx="436.5" cy="500.5" r="1.7"/><circle cx="437.3" cy="498.1" r="1.7"/><circle cx="438.1" cy="495.8" r="1.7"/><circle cx="438.8" cy="492.7" r="1.7"/><circle cx="439.6" cy="491.8" r="1.7"/><circle cx="440.4" cy="491.4" r="1.7"/><circle cx="441.2" cy="490.1" r="1.7"/><circle cx="441.9" cy="488.2" r="1.7"/><circle cx="442.7" cy="486.9" r="1.7"/><circle cx="443.5" cy="485.2" r="1.7"/><circle cx="444.2" cy="483.7" r="1.7"/><circle cx="445.0" cy="481.2" r="1.7"/><circle cx="445.8" cy="479.7" r="1.7"/><circle cx="446.5" cy="477.1" r="1.7"/><circle cx="447.3" cy="475.4" r="1.7"/><circle cx="448.1" cy="473.0" r="1.7"/><circle cx="448.9" cy="472.5" r="1.7"/><circle cx="449.6" cy="470.9" r="1.7"/><circle cx="450.4" cy="469.9" r="1.7"/><circle cx="451.2" cy="470.1" r="1.7"/><circle cx="451.9" cy="469.4" r="1.7"/><circle cx="452.7" cy="468.5" r="1.7"/><circle cx="453.5" cy="467.6" r="1.7"/><circle cx="454.2" cy="466.7" r="1.7"/><circle cx="455.0" cy="465.8" r="1.7"/><circle cx="455.8" cy="463.7" r="1.7"/><circle cx="456.6" cy="462.5" r="1.7"/><circle cx="457.3" cy="461.2" r="1.7"/><circle cx="458.1" cy="458.0" r="1.7"/><circle cx="458.9" cy="456.8" r="1.7"/><circle cx="459.6" cy="454.6" r="1.7"/><circle cx="460.4" cy="453.1" r="1.7"/><circle cx="461.2" cy="451.6" r="1.7"/><circle cx="461.9" cy="450.1" r="1.7"/><circle cx="462.7" cy="452.3" r="1.7"/><circle cx="463.5" cy="454.0" r="1.7"/><circle cx="464.3" cy="456.0" r="1.7"/><circle cx="465.0" cy="457.8" r="1.7"/><circle cx="465.8" cy="459.3" r="1.7"/><circle cx="466.6" cy="461.1" r="1.7"/><circle cx="467.3" cy="463.6" r="1.7"/><circle cx="468.1" cy="467.2" r="1.7"/><circle cx="468.9" cy="468.2" r="1.7"/><circle cx="469.6" cy="460.5" r="1.7"/><circle cx="470.4" cy="453.8" r="1.7"/><circle cx="471.2" cy="450.7" r="1.7"/><circle cx="472.0" cy="448.2" r="1.7"/><circle cx="472.7" cy="445.5" r="1.7"/><circle cx="473.5" cy="442.2" r="1.7"/><circle cx="474.3" cy="436.7" r="1.7"/><circle cx="475.0" cy="432.9" r="1.7"/><circle cx="475.8" cy="429.1" r="1.7"/><circle cx="476.6" cy="426.5" r="1.7"/><circle cx="477.3" cy="427.4" r="1.7"/><circle cx="478.1" cy="429.6" r="1.7"/><circle cx="478.9" cy="437.7" r="1.7"/><circle cx="479.7" cy="445.9" r="1.7"/><circle cx="480.4" cy="454.1" r="1.7"/><circle cx="481.2" cy="455.2" r="1.7"/><circle cx="482.0" cy="452.8" r="1.7"/><circle cx="482.7" cy="447.9" r="1.7"/><circle cx="483.5" cy="444.6" r="1.7"/><circle cx="484.3" cy="441.3" r="1.7"/><circle cx="485.0" cy="438.7" r="1.7"/><circle cx="485.8" cy="438.3" r="1.7"/><circle cx="486.6" cy="440.6" r="1.7"/><circle cx="487.4" cy="441.8" r="1.7"/><circle cx="488.1" cy="443.4" r="1.7"/><circle cx="488.9" cy="441.7" r="1.7"/><circle cx="489.7" cy="439.1" r="1.7"/><circle cx="490.4" cy="438.2" r="1.7"/><circle cx="491.2" cy="439.5" r="1.7"/><circle cx="492.0" cy="441.2" r="1.7"/><circle cx="492.7" cy="442.6" r="1.7"/><circle cx="493.5" cy="444.5" r="1.7"/><circle cx="494.3" cy="443.2" r="1.7"/><circle cx="495.1" cy="441.7" r="1.7"/><circle cx="495.8" cy="439.3" r="1.7"/><circle cx="496.6" cy="438.4" r="1.7"/><circle cx="497.4" cy="437.1" r="1.7"/><circle cx="498.1" cy="435.7" r="1.7"/><circle cx="498.9" cy="434.6" r="1.7"/><circle cx="499.7" cy="435.3" r="1.7"/><circle cx="500.4" cy="437.0" r="1.7"/><circle cx="501.2" cy="439.5" r="1.7"/><circle cx="502.0" cy="441.8" r="1.7"/><circle cx="502.8" cy="437.8" r="1.7"/><circle cx="503.5" cy="433.7" r="1.7"/><circle cx="504.3" cy="429.6" r="1.7"/><circle cx="505.1" cy="427.9" r="1.7"/><circle cx="505.8" cy="426.3" r="1.7"/><circle cx="506.6" cy="426.7" r="1.7"/><circle cx="507.4" cy="427.6" r="1.7"/><circle cx="508.1" cy="429.4" r="1.7"/><circle cx="508.9" cy="432.3" r="1.7"/><circle cx="509.7" cy="437.0" r="1.7"/><circle cx="510.5" cy="424.9" r="1.7"/><circle cx="511.2" cy="418.3" r="1.7"/><circle cx="512.0" cy="414.0" r="1.7"/><circle cx="512.8" cy="414.2" r="1.7"/><circle cx="513.5" cy="413.2" r="1.7"/><circle cx="514.3" cy="412.6" r="1.7"/><circle cx="515.1" cy="412.9" r="1.7"/><circle cx="515.8" cy="412.1" r="1.7"/><circle cx="516.6" cy="412.2" r="1.7"/><circle cx="517.4" cy="411.2" r="1.7"/><circle cx="518.2" cy="410.6" r="1.7"/><circle cx="518.9" cy="410.4" r="1.7"/><circle cx="519.7" cy="410.4" r="1.7"/><circle cx="520.5" cy="408.5" r="1.7"/><circle cx="521.2" cy="398.8" r="1.7"/><circle cx="522.0" cy="389.9" r="1.7"/><circle cx="522.8" cy="383.0" r="1.7"/><circle cx="523.5" cy="378.9" r="1.7"/><circle cx="524.3" cy="376.1" r="1.7"/><circle cx="525.1" cy="381.1" r="1.7"/><circle cx="525.9" cy="385.1" r="1.7"/><circle cx="526.6" cy="388.9" r="1.7"/><circle cx="527.4" cy="393.3" r="1.7"/><circle cx="528.2" cy="396.6" r="1.7"/><circle cx="528.9" cy="398.8" r="1.7"/><circle cx="529.7" cy="401.9" r="1.7"/><circle cx="530.5" cy="406.7" r="1.7"/><circle cx="531.2" cy="410.2" r="1.7"/><circle cx="532.0" cy="413.9" r="1.7"/><circle cx="532.8" cy="417.7" r="1.7"/><circle cx="533.6" cy="418.6" r="1.7"/><circle cx="534.3" cy="420.7" r="1.7"/><circle cx="535.1" cy="423.5" r="1.7"/><circle cx="535.9" cy="426.1" r="1.7"/><circle cx="536.6" cy="427.1" r="1.7"/><circle cx="537.4" cy="426.9" r="1.7"/><circle cx="538.2" cy="435.6" r="1.7"/><circle cx="538.9" cy="438.6" r="1.7"/><circle cx="539.7" cy="443.2" r="1.7"/><circle cx="540.5" cy="453.8" r="1.7"/><circle cx="541.3" cy="466.5" r="1.7"/><circle cx="542.0" cy="476.3" r="1.7"/><circle cx="542.8" cy="470.8" r="1.7"/><circle cx="543.6" cy="466.7" r="1.7"/><circle cx="544.3" cy="466.0" r="1.7"/><circle cx="545.1" cy="465.4" r="1.7"/><circle cx="545.9" cy="462.9" r="1.7"/><circle cx="546.6" cy="458.4" r="1.7"/><circle cx="547.4" cy="455.1" r="1.7"/><circle cx="548.2" cy="454.5" r="1.7"/><circle cx="549.0" cy="453.6" r="1.7"/><circle cx="549.7" cy="451.9" r="1.7"/><circle cx="550.5" cy="451.5" r="1.7"/><circle cx="551.3" cy="452.2" r="1.7"/><circle cx="552.0" cy="453.0" r="1.7"/><circle cx="552.8" cy="458.4" r="1.7"/><circle cx="553.6" cy="462.4" r="1.7"/><circle cx="554.3" cy="460.9" r="1.7"/><circle cx="555.1" cy="459.6" r="1.7"/><circle cx="555.9" cy="459.9" r="1.7"/><circle cx="556.7" cy="460.4" r="1.7"/><circle cx="557.4" cy="460.6" r="1.7"/><circle cx="558.2" cy="462.1" r="1.7"/><circle cx="559.0" cy="463.9" r="1.7"/><circle cx="559.7" cy="466.2" r="1.7"/><circle cx="560.5" cy="467.4" r="1.7"/><circle cx="561.3" cy="468.3" r="1.7"/><circle cx="562.0" cy="463.8" r="1.7"/><circle cx="562.8" cy="459.0" r="1.7"/><circle cx="563.6" cy="455.6" r="1.7"/><circle cx="564.4" cy="456.8" r="1.7"/><circle cx="565.1" cy="459.0" r="1.7"/><circle cx="565.9" cy="461.7" r="1.7"/><circle cx="566.7" cy="464.4" r="1.7"/><circle cx="567.4" cy="460.9" r="1.7"/><circle cx="568.2" cy="457.3" r="1.7"/><circle cx="569.0" cy="456.0" r="1.7"/><circle cx="569.7" cy="459.4" r="1.7"/><circle cx="570.5" cy="463.0" r="1.7"/><circle cx="571.3" cy="461.3" r="1.7"/><circle cx="572.1" cy="457.7" r="1.7"/><circle cx="572.8" cy="453.7" r="1.7"/><circle cx="573.6" cy="451.9" r="1.7"/><circle cx="574.4" cy="455.1" r="1.7"/><circle cx="575.1" cy="456.9" r="1.7"/><circle cx="575.9" cy="457.5" r="1.7"/><circle cx="576.7" cy="458.9" r="1.7"/><circle cx="577.4" cy="458.9" r="1.7"/><circle cx="578.2" cy="460.8" r="1.7"/><circle cx="579.0" cy="465.1" r="1.7"/><circle cx="579.8" cy="471.5" r="1.7"/><circle cx="580.5" cy="473.1" r="1.7"/><circle cx="581.3" cy="470.8" r="1.7"/><circle cx="582.1" cy="469.3" r="1.7"/><circle cx="582.8" cy="467.8" r="1.7"/><circle cx="583.6" cy="465.9" r="1.7"/><circle cx="584.4" cy="463.0" r="1.7"/><circle cx="585.1" cy="459.3" r="1.7"/><circle cx="585.9" cy="457.9" r="1.7"/><circle cx="586.7" cy="457.5" r="1.7"/><circle cx="587.5" cy="462.4" r="1.7"/><circle cx="588.2" cy="464.7" r="1.7"/><circle cx="589.0" cy="467.2" r="1.7"/><circle cx="589.8" cy="469.5" r="1.7"/><circle cx="590.5" cy="469.8" r="1.7"/><circle cx="591.3" cy="470.9" r="1.7"/><circle cx="592.1" cy="471.2" r="1.7"/><circle cx="592.8" cy="471.7" r="1.7"/><circle cx="593.6" cy="474.3" r="1.7"/><circle cx="594.4" cy="478.7" r="1.7"/><circle cx="595.2" cy="481.8" r="1.7"/><circle cx="595.9" cy="484.0" r="1.7"/><circle cx="596.7" cy="486.3" r="1.7"/><circle cx="597.5" cy="484.0" r="1.7"/><circle cx="598.2" cy="479.8" r="1.7"/><circle cx="599.0" cy="478.1" r="1.7"/><circle cx="599.8" cy="476.0" r="1.7"/><circle cx="600.5" cy="476.5" r="1.7"/><circle cx="601.3" cy="475.7" r="1.7"/><circle cx="602.1" cy="474.0" r="1.7"/><circle cx="602.9" cy="471.7" r="1.7"/><circle cx="603.6" cy="470.1" r="1.7"/><circle cx="604.4" cy="469.8" r="1.7"/></g>
<g fill="#f2a93a"><circle cx="66.2" cy="491.1" r="0.45"/><circle cx="67.7" cy="489.3" r="0.45"/><circle cx="69.2" cy="487.4" r="0.45"/><circle cx="70.8" cy="486.6" r="0.45"/><circle cx="72.3" cy="485.7" r="0.45"/><circle cx="73.9" cy="486.5" r="0.45"/><circle cx="75.4" cy="485.6" r="0.45"/><circle cx="76.9" cy="485.5" r="0.45"/><circle cx="78.5" cy="488.6" r="0.45"/><circle cx="80.0" cy="490.6" r="0.45"/><circle cx="81.6" cy="491.8" r="0.45"/><circle cx="83.1" cy="491.6" r="0.45"/><circle cx="84.6" cy="494.2" r="0.45"/><circle cx="90.0" cy="511.4" r="0.45"/><circle cx="91.6" cy="513.4" r="0.45"/><circle cx="93.1" cy="511.5" r="0.45"/><circle cx="94.7" cy="510.2" r="0.45"/><circle cx="96.2" cy="509.3" r="0.45"/><circle cx="97.7" cy="509.0" r="0.45"/><circle cx="99.3" cy="508.9" r="0.45"/><circle cx="100.8" cy="510.0" r="0.45"/><circle cx="102.4" cy="512.9" r="0.45"/><circle cx="103.9" cy="514.7" r="0.45"/><circle cx="105.4" cy="516.5" r="0.45"/><circle cx="112.4" cy="547.8" r="0.45"/><circle cx="113.9" cy="554.9" r="0.45"/><circle cx="115.4" cy="558.4" r="0.45"/><circle cx="117.0" cy="561.2" r="0.45"/><circle cx="118.5" cy="564.1" r="0.45"/><circle cx="120.1" cy="563.6" r="0.45"/><circle cx="121.6" cy="558.0" r="0.45"/><circle cx="123.1" cy="554.1" r="0.45"/><circle cx="124.7" cy="554.7" r="0.45"/><circle cx="126.2" cy="557.1" r="0.45"/><circle cx="127.8" cy="560.5" r="0.45"/><circle cx="129.3" cy="563.2" r="0.45"/><circle cx="130.8" cy="564.8" r="0.45"/><circle cx="132.4" cy="562.3" r="0.45"/><circle cx="133.9" cy="557.6" r="0.45"/><circle cx="135.5" cy="555.5" r="0.45"/><circle cx="137.0" cy="553.8" r="0.45"/><circle cx="138.5" cy="556.2" r="0.45"/><circle cx="140.1" cy="555.2" r="0.45"/><circle cx="141.6" cy="552.1" r="0.45"/><circle cx="143.2" cy="547.8" r="0.45"/><circle cx="144.7" cy="545.2" r="0.45"/><circle cx="146.2" cy="547.7" r="0.45"/><circle cx="147.8" cy="546.6" r="0.45"/><circle cx="149.3" cy="545.0" r="0.45"/><circle cx="150.9" cy="544.1" r="0.45"/><circle cx="152.4" cy="543.2" r="0.45"/><circle cx="153.9" cy="542.6" r="0.45"/><circle cx="155.5" cy="542.8" r="0.45"/><circle cx="157.0" cy="543.8" r="0.45"/><circle cx="158.6" cy="544.1" r="0.45"/><circle cx="160.1" cy="545.2" r="0.45"/><circle cx="161.6" cy="545.4" r="0.45"/><circle cx="163.2" cy="545.2" r="0.45"/><circle cx="164.7" cy="545.6" r="0.45"/><circle cx="166.3" cy="546.2" r="0.45"/><circle cx="167.8" cy="546.6" r="0.45"/><circle cx="169.3" cy="547.6" r="0.45"/><circle cx="170.9" cy="548.3" r="0.45"/><circle cx="172.4" cy="549.5" r="0.45"/><circle cx="174.0" cy="549.6" r="0.45"/><circle cx="175.5" cy="550.0" r="0.45"/><circle cx="177.0" cy="550.0" r="0.45"/><circle cx="178.6" cy="548.9" r="0.45"/><circle cx="180.1" cy="548.8" r="0.45"/><circle cx="181.7" cy="547.5" r="0.45"/><circle cx="183.2" cy="546.0" r="0.45"/><circle cx="184.7" cy="544.9" r="0.45"/><circle cx="186.3" cy="543.2" r="0.45"/><circle cx="187.8" cy="543.7" r="0.45"/><circle cx="189.4" cy="543.7" r="0.45"/><circle cx="190.9" cy="544.1" r="0.45"/><circle cx="192.4" cy="543.6" r="0.45"/><circle cx="194.0" cy="544.0" r="0.45"/><circle cx="195.5" cy="542.9" r="0.45"/><circle cx="197.1" cy="542.6" r="0.45"/><circle cx="198.6" cy="542.4" r="0.45"/><circle cx="200.1" cy="544.9" r="0.45"/><circle cx="201.7" cy="546.9" r="0.45"/><circle cx="203.2" cy="548.3" r="0.45"/><circle cx="204.8" cy="548.9" r="0.45"/><circle cx="206.3" cy="551.0" r="0.45"/><circle cx="207.8" cy="552.7" r="0.45"/><circle cx="209.4" cy="554.2" r="0.45"/><circle cx="210.9" cy="555.6" r="0.45"/><circle cx="212.5" cy="557.3" r="0.45"/><circle cx="214.0" cy="556.8" r="0.45"/><circle cx="215.5" cy="556.1" r="0.45"/><circle cx="217.1" cy="554.5" r="0.45"/><circle cx="218.6" cy="552.9" r="0.45"/><circle cx="220.2" cy="550.6" r="0.45"/><circle cx="221.7" cy="549.8" r="0.45"/><circle cx="223.2" cy="550.7" r="0.45"/><circle cx="224.8" cy="552.7" r="0.45"/><circle cx="226.3" cy="556.5" r="0.45"/><circle cx="227.9" cy="558.7" r="0.45"/><circle cx="229.4" cy="561.5" r="0.45"/><circle cx="230.9" cy="564.1" r="0.45"/><circle cx="232.5" cy="563.3" r="0.45"/><circle cx="234.0" cy="559.3" r="0.45"/><circle cx="235.6" cy="557.8" r="0.45"/><circle cx="237.1" cy="556.4" r="0.45"/><circle cx="238.6" cy="554.5" r="0.45"/><circle cx="240.2" cy="553.2" r="0.45"/><circle cx="241.7" cy="552.6" r="0.45"/><circle cx="243.3" cy="550.6" r="0.45"/><circle cx="244.8" cy="549.5" r="0.45"/><circle cx="246.3" cy="546.4" r="0.45"/><circle cx="247.9" cy="544.2" r="0.45"/><circle cx="249.4" cy="541.4" r="0.45"/><circle cx="251.0" cy="540.3" r="0.45"/><circle cx="252.5" cy="541.8" r="0.45"/><circle cx="254.0" cy="541.4" r="0.45"/><circle cx="255.6" cy="542.0" r="0.45"/><circle cx="257.1" cy="542.4" r="0.45"/><circle cx="258.7" cy="541.2" r="0.45"/><circle cx="260.2" cy="536.6" r="0.45"/><circle cx="261.7" cy="533.2" r="0.45"/><circle cx="263.3" cy="530.8" r="0.45"/><circle cx="264.8" cy="531.9" r="0.45"/><circle cx="266.4" cy="532.6" r="0.45"/><circle cx="267.9" cy="534.7" r="0.45"/><circle cx="269.4" cy="534.9" r="0.45"/><circle cx="271.0" cy="534.2" r="0.45"/><circle cx="272.5" cy="531.7" r="0.45"/><circle cx="274.1" cy="529.0" r="0.45"/><circle cx="275.6" cy="526.8" r="0.45"/><circle cx="277.1" cy="525.0" r="0.45"/><circle cx="278.7" cy="524.6" r="0.45"/><circle cx="280.2" cy="522.3" r="0.45"/><circle cx="281.8" cy="519.8" r="0.45"/><circle cx="283.3" cy="514.9" r="0.45"/><circle cx="287.2" cy="494.8" r="0.45"/><circle cx="288.7" cy="495.9" r="0.45"/><circle cx="290.2" cy="495.5" r="0.45"/><circle cx="291.8" cy="497.9" r="0.45"/><circle cx="293.3" cy="502.4" r="0.45"/><circle cx="294.9" cy="505.7" r="0.45"/><circle cx="296.4" cy="507.7" r="0.45"/><circle cx="297.9" cy="509.4" r="0.45"/><circle cx="299.5" cy="511.3" r="0.45"/><circle cx="301.0" cy="513.3" r="0.45"/><circle cx="302.6" cy="511.6" r="0.45"/><circle cx="304.1" cy="510.4" r="0.45"/><circle cx="305.6" cy="507.7" r="0.45"/><circle cx="307.2" cy="505.6" r="0.45"/><circle cx="308.7" cy="506.8" r="0.45"/><circle cx="310.3" cy="505.2" r="0.45"/><circle cx="311.8" cy="502.0" r="0.45"/><circle cx="313.3" cy="500.6" r="0.45"/><circle cx="314.9" cy="498.9" r="0.45"/><circle cx="316.4" cy="497.0" r="0.45"/><circle cx="318.0" cy="494.2" r="0.45"/><circle cx="319.5" cy="492.5" r="0.45"/><circle cx="321.0" cy="491.4" r="0.45"/><circle cx="322.6" cy="491.2" r="0.45"/><circle cx="324.1" cy="491.0" r="0.45"/><circle cx="325.7" cy="496.1" r="0.45"/><circle cx="327.2" cy="500.0" r="0.45"/><circle cx="328.7" cy="501.1" r="0.45"/><circle cx="330.3" cy="500.6" r="0.45"/><circle cx="331.8" cy="498.7" r="0.45"/><circle cx="333.4" cy="498.2" r="0.45"/><circle cx="334.9" cy="496.4" r="0.45"/><circle cx="336.4" cy="496.1" r="0.45"/><circle cx="338.0" cy="499.3" r="0.45"/><circle cx="339.5" cy="500.3" r="0.45"/><circle cx="341.1" cy="500.9" r="0.45"/><circle cx="342.6" cy="496.3" r="0.45"/><circle cx="344.1" cy="492.9" r="0.45"/><circle cx="345.7" cy="490.5" r="0.45"/><circle cx="347.2" cy="484.8" r="0.45"/><circle cx="348.8" cy="480.0" r="0.45"/><circle cx="350.3" cy="478.6" r="0.45"/><circle cx="351.8" cy="476.3" r="0.45"/><circle cx="353.4" cy="477.7" r="0.45"/><circle cx="354.9" cy="483.9" r="0.45"/><circle cx="356.5" cy="480.7" r="0.45"/><circle cx="358.0" cy="479.7" r="0.45"/><circle cx="359.5" cy="483.4" r="0.45"/><circle cx="361.1" cy="476.1" r="0.45"/><circle cx="362.6" cy="471.6" r="0.45"/><circle cx="364.2" cy="468.0" r="0.45"/><circle cx="365.7" cy="466.7" r="0.45"/><circle cx="367.2" cy="469.4" r="0.45"/><circle cx="368.8" cy="474.6" r="0.45"/><circle cx="370.3" cy="475.8" r="0.45"/><circle cx="371.9" cy="477.5" r="0.45"/><circle cx="373.4" cy="481.2" r="0.45"/><circle cx="374.9" cy="487.4" r="0.45"/><circle cx="376.5" cy="488.3" r="0.45"/><circle cx="378.0" cy="487.5" r="0.45"/><circle cx="379.6" cy="487.4" r="0.45"/><circle cx="381.1" cy="487.0" r="0.45"/><circle cx="382.6" cy="490.0" r="0.45"/><circle cx="384.2" cy="492.7" r="0.45"/><circle cx="385.7" cy="493.6" r="0.45"/><circle cx="387.3" cy="490.9" r="0.45"/><circle cx="388.8" cy="488.0" r="0.45"/><circle cx="390.3" cy="486.2" r="0.45"/><circle cx="391.9" cy="484.7" r="0.45"/><circle cx="393.4" cy="480.7" r="0.45"/><circle cx="395.0" cy="477.3" r="0.45"/><circle cx="396.5" cy="479.4" r="0.45"/><circle cx="398.0" cy="481.9" r="0.45"/><circle cx="399.6" cy="472.2" r="0.45"/><circle cx="401.1" cy="462.7" r="0.45"/><circle cx="402.7" cy="462.3" r="0.45"/><circle cx="404.2" cy="462.1" r="0.45"/><circle cx="405.7" cy="464.9" r="0.45"/><circle cx="407.3" cy="469.0" r="0.45"/><circle cx="408.8" cy="467.3" r="0.45"/><circle cx="410.4" cy="470.2" r="0.45"/><circle cx="411.9" cy="477.8" r="0.45"/><circle cx="413.4" cy="480.5" r="0.45"/><circle cx="415.0" cy="483.1" r="0.45"/><circle cx="416.5" cy="482.6" r="0.45"/><circle cx="418.1" cy="483.8" r="0.45"/><circle cx="419.6" cy="486.5" r="0.45"/><circle cx="421.1" cy="487.7" r="0.45"/><circle cx="422.7" cy="488.0" r="0.45"/><circle cx="424.2" cy="488.7" r="0.45"/><circle cx="425.8" cy="493.5" r="0.45"/><circle cx="427.3" cy="503.2" r="0.45"/><circle cx="428.8" cy="509.9" r="0.45"/><circle cx="430.4" cy="507.8" r="0.45"/><circle cx="431.9" cy="502.9" r="0.45"/><circle cx="433.5" cy="500.4" r="0.45"/><circle cx="435.0" cy="500.3" r="0.45"/><circle cx="436.5" cy="500.5" r="0.45"/><circle cx="438.1" cy="495.8" r="0.45"/><circle cx="439.6" cy="491.8" r="0.45"/><circle cx="441.2" cy="490.1" r="0.45"/><circle cx="442.7" cy="486.9" r="0.45"/><circle cx="444.2" cy="483.7" r="0.45"/><circle cx="445.8" cy="479.7" r="0.45"/><circle cx="447.3" cy="475.4" r="0.45"/><circle cx="448.9" cy="472.5" r="0.45"/><circle cx="450.4" cy="469.9" r="0.45"/><circle cx="451.9" cy="469.4" r="0.45"/><circle cx="453.5" cy="467.6" r="0.45"/><circle cx="455.0" cy="465.8" r="0.45"/><circle cx="456.6" cy="462.5" r="0.45"/><circle cx="458.1" cy="458.0" r="0.45"/><circle cx="459.6" cy="454.6" r="0.45"/><circle cx="461.2" cy="451.6" r="0.45"/><circle cx="462.7" cy="452.3" r="0.45"/><circle cx="464.3" cy="456.0" r="0.45"/><circle cx="465.8" cy="459.3" r="0.45"/><circle cx="467.3" cy="463.6" r="0.45"/><circle cx="468.9" cy="468.2" r="0.45"/><circle cx="470.4" cy="453.8" r="0.45"/><circle cx="472.0" cy="448.2" r="0.45"/><circle cx="473.5" cy="442.2" r="0.45"/><circle cx="475.0" cy="432.9" r="0.45"/><circle cx="476.6" cy="426.5" r="0.45"/><circle cx="478.1" cy="429.6" r="0.45"/><circle cx="479.7" cy="445.9" r="0.45"/><circle cx="481.2" cy="455.2" r="0.45"/><circle cx="482.7" cy="447.9" r="0.45"/><circle cx="484.3" cy="441.3" r="0.45"/><circle cx="485.8" cy="438.3" r="0.45"/><circle cx="487.4" cy="441.8" r="0.45"/><circle cx="488.9" cy="441.7" r="0.45"/><circle cx="490.4" cy="438.2" r="0.45"/><circle cx="492.0" cy="441.2" r="0.45"/><circle cx="493.5" cy="444.5" r="0.45"/><circle cx="495.1" cy="441.7" r="0.45"/><circle cx="496.6" cy="438.4" r="0.45"/><circle cx="498.1" cy="435.7" r="0.45"/><circle cx="499.7" cy="435.3" r="0.45"/><circle cx="501.2" cy="439.5" r="0.45"/><circle cx="502.8" cy="437.8" r="0.45"/><circle cx="504.3" cy="429.6" r="0.45"/><circle cx="505.8" cy="426.3" r="0.45"/><circle cx="507.4" cy="427.6" r="0.45"/><circle cx="508.9" cy="432.3" r="0.45"/><circle cx="510.5" cy="424.9" r="0.45"/><circle cx="512.0" cy="414.0" r="0.45"/><circle cx="513.5" cy="413.2" r="0.45"/><circle cx="515.1" cy="412.9" r="0.45"/><circle cx="516.6" cy="412.2" r="0.45"/><circle cx="518.2" cy="410.6" r="0.45"/><circle cx="519.7" cy="410.4" r="0.45"/><circle cx="521.2" cy="398.8" r="0.45"/><circle cx="522.8" cy="383.0" r="0.45"/><circle cx="524.3" cy="376.1" r="0.45"/><circle cx="525.9" cy="385.1" r="0.45"/><circle cx="527.4" cy="393.3" r="0.45"/><circle cx="528.9" cy="398.8" r="0.45"/><circle cx="530.5" cy="406.7" r="0.45"/><circle cx="532.0" cy="413.9" r="0.45"/><circle cx="533.6" cy="418.6" r="0.45"/><circle cx="535.1" cy="423.5" r="0.45"/><circle cx="536.6" cy="427.1" r="0.45"/><circle cx="538.2" cy="435.6" r="0.45"/><circle cx="539.7" cy="443.2" r="0.45"/><circle cx="541.3" cy="466.5" r="0.45"/><circle cx="542.8" cy="470.8" r="0.45"/><circle cx="544.3" cy="466.0" r="0.45"/><circle cx="545.9" cy="462.9" r="0.45"/><circle cx="547.4" cy="455.1" r="0.45"/><circle cx="549.0" cy="453.6" r="0.45"/><circle cx="550.5" cy="451.5" r="0.45"/><circle cx="552.0" cy="453.0" r="0.45"/><circle cx="553.6" cy="462.4" r="0.45"/><circle cx="555.1" cy="459.6" r="0.45"/><circle cx="556.7" cy="460.4" r="0.45"/><circle cx="558.2" cy="462.1" r="0.45"/><circle cx="559.7" cy="466.2" r="0.45"/><circle cx="561.3" cy="468.3" r="0.45"/><circle cx="562.8" cy="459.0" r="0.45"/><circle cx="564.4" cy="456.8" r="0.45"/><circle cx="565.9" cy="461.7" r="0.45"/><circle cx="567.4" cy="460.9" r="0.45"/><circle cx="569.0" cy="456.0" r="0.45"/><circle cx="570.5" cy="463.0" r="0.45"/><circle cx="572.1" cy="457.7" r="0.45"/><circle cx="573.6" cy="451.9" r="0.45"/><circle cx="575.1" cy="456.9" r="0.45"/><circle cx="576.7" cy="458.9" r="0.45"/><circle cx="578.2" cy="460.8" r="0.45"/><circle cx="579.8" cy="471.5" r="0.45"/><circle cx="581.3" cy="470.8" r="0.45"/><circle cx="582.8" cy="467.8" r="0.45"/><circle cx="584.4" cy="463.0" r="0.45"/><circle cx="585.9" cy="457.9" r="0.45"/><circle cx="587.5" cy="462.4" r="0.45"/><circle cx="589.0" cy="467.2" r="0.45"/><circle cx="590.5" cy="469.8" r="0.45"/><circle cx="592.1" cy="471.2" r="0.45"/><circle cx="593.6" cy="474.3" r="0.45"/><circle cx="595.2" cy="481.8" r="0.45"/><circle cx="596.7" cy="486.3" r="0.45"/><circle cx="598.2" cy="479.8" r="0.45"/><circle cx="599.8" cy="476.0" r="0.45"/><circle cx="601.3" cy="475.7" r="0.45"/><circle cx="602.9" cy="471.7" r="0.45"/><circle cx="604.4" cy="469.8" r="0.45"/></g>
<path d="M66.7 493.3 L68.7 496.6 L71.2 492.5 L73.6 493.3 L76.1 489.1 L77.8 495.0 L80.3 495.8 L82.8 495.0 L84.5 497.5 L87.0 505.0 L89.5 516.6 L91.6 523.3 L93.6 519.9 L96.1 518.3 L99.4 516.6 L101.9 521.6 L103.6 527.4 L106.1 523.3 L107.8 531.6 L108.9 546.6 L111.1 548.2 L112.8 558.2 L115.3 564.9 L117.7 569.9 L119.4 574.9 L121.1 568.2 L122.7 562.4 L124.4 561.5 L126.1 565.7 L128.6 569.9 L130.2 578.2 L131.9 574.9 L133.6 568.2 L135.2 561.5 L136.9 559.9 L138.6 564.9 L141.0 566.5 L142.7 559.9 L144.4 556.5 L146.9 557.4 L149.4 553.2 L151.9 549.9 L154.4 549.1 L156.9 552.4 L160.2 551.6 L163.5 553.2 L166.8 554.0 L170.2 554.9 L174.0 556.5 L177.3 554.9 L180.7 556.5 L183.2 553.2 L185.6 549.1 L188.1 553.2 L190.6 554.9 L194.0 554.0 L197.3 552.4 L199.8 554.9 L202.3 558.2 L204.8 558.2 L207.3 561.5 L209.8 565.7 L213.1 569.0 L215.6 566.5 L218.1 561.5 L221.4 558.2 L223.9 561.5 L226.4 568.2 L228.9 573.2 L230.9 577.3 L233.1 571.5 L235.6 569.9 L238.9 565.7 L241.4 564.9 L243.9 561.5 L246.4 555.7 L248.9 551.6 L251.4 549.9 L253.9 552.4 L256.4 551.6 L258.9 553.2 L261.4 546.6 L263.9 539.9 L266.4 541.6 L268.9 545.7 L271.4 546.6 L273.9 539.9 L276.3 536.6 L278.8 533.2 L281.3 529.9 L283.8 523.3 L285.2 508.3 L286.0 501.6 L287.3 500.0 L288.5 508.3 L290.2 510.8 L292.7 500.0 L294.3 508.3 L296.0 513.3 L298.5 516.6 L301.0 519.9 L303.5 514.9 L306.0 515.8 L307.6 511.6 L310.1 518.3 L311.8 506.6 L314.3 509.9 L316.8 505.0 L319.3 497.5 L321.8 496.6 L324.3 496.6 L326.8 508.3 L329.3 509.1 L332.6 503.3 L335.9 500.0 L338.4 505.0 L340.9 505.8 L344.2 496.6 L345.9 500.0 L347.6 485.0 L350.1 488.3 L352.6 471.7 L355.1 488.3 L357.6 480.0 L359.6 486.6 L361.7 472.0 L363.4 467.0 L365.0 462.9 L366.7 464.5 L368.4 472.0 L370.0 473.7 L371.7 475.3 L372.5 475.0 L375.0 485.0 L377.5 491.6 L380.0 490.0 L382.5 495.0 L385.9 500.0 L388.3 495.0 L390.8 490.0 L392.5 496.6 L395.0 481.7 L398.0 485.0 L399.7 473.5 L401.3 462.7 L403.0 471.9 L404.7 465.2 L407.2 473.5 L408.8 468.5 L410.5 471.9 L411.3 486.5 L413.8 488.2 L415.5 493.2 L418.0 487.3 L420.5 491.5 L423.0 496.5 L425.5 493.2 L427.1 508.1 L428.8 514.8 L430.5 506.5 L432.9 502.3 L435.4 504.0 L437.9 509.8 L440.4 496.5 L442.9 493.2 L445.4 486.5 L447.1 479.8 L449.6 475.2 L451.3 471.9 L452.9 468.5 L454.6 471.9 L456.2 465.2 L458.7 458.5 L461.2 453.5 L462.9 450.2 L464.6 458.5 L466.2 460.2 L467.9 471.9 L469.6 472.7 L471.2 461.9 L472.9 451.9 L473.7 460.2 L474.9 438.6 L476.2 420.3 L477.9 420.3 L478.7 436.9 L480.4 445.2 L481.2 455.2 L482.9 443.6 L485.4 431.1 L487.0 433.6 L488.7 440.2 L490.4 432.7 L492.0 440.2 L493.7 435.2 L495.4 441.9 L497.0 431.9 L499.5 429.4 L501.2 436.9 L502.8 435.2 L504.5 422.8 L507.0 416.9 L508.2 426.9 L509.5 411.1 L510.0 411.6 L511.7 408.3 L513.0 404.1 L514.7 409.9 L516.3 406.6 L518.0 403.3 L519.7 404.9 L521.3 399.9 L522.5 388.3 L523.6 371.6 L525.0 364.2 L526.1 370.0 L527.5 380.0 L528.6 389.9 L530.3 390.8 L531.6 398.3 L533.0 404.9 L534.1 404.1 L535.3 411.6 L536.6 406.6 L538.0 414.9 L539.1 413.2 L540.5 419.9 L541.3 434.9 L542.0 448.2 L543.0 456.5 L544.1 454.9 L545.3 456.5 L546.9 448.2 L548.6 438.2 L550.3 438.2 L551.6 439.9 L552.9 448.2 L554.6 438.2 L556.3 439.9 L557.9 429.9 L559.6 438.2 L561.3 442.4 L562.9 431.6 L564.6 430.7 L566.2 434.9 L567.9 421.6 L569.1 411.6 L570.4 419.9 L571.9 411.6 L573.7 408.3 L575.2 418.2 L576.6 423.2 L577.9 416.6 L579.1 421.6 L580.7 429.9 L581.9 435.7 L583.6 429.9 L585.2 424.9 L586.9 421.6 L587.9 434.9 L589.0 444.9 L590.7 436.5 L592.4 441.5 L593.4 444.0 L594.8 454.0 L596.8 463.4 L598.8 458.7 L600.8 458.0 L602.8 454.7 L604.8 452.0 L606.1 455.4" fill="none" stroke="#4472c4" stroke-width="2.2" stroke-linejoin="round"/>
<line x1="179.6" y1="330.8" x2="605.9" y2="473.4" stroke="#ed7d31" stroke-width="2.3"/>
<circle cx="605.9" cy="473.6" r="2.3" fill="#800080"/>
<line x1="200.5" y1="610" x2="605.5" y2="433.6" stroke="#5b9bd5" stroke-width="2"/>
<path d="M600 431.6 L606 433.4 L602.2 438.2" fill="none" stroke="#5b9bd5" stroke-width="1.7"/>
<line x1="543" y1="610" x2="604.8" y2="522.8" stroke="#5b9bd5" stroke-width="1"/>
<path d="M601.2 523.6 L605.2 522 L604.8 526.4" fill="none" stroke="#5b9bd5" stroke-width="1"/>
<line x1="537.6" y1="326" x2="604" y2="446.5" stroke="#ff2020" stroke-width="0.8"/>
<path d="M601.4 447.3 L605.6 445.2 L605.6 450z" fill="#ff0000"/>
<g shape-rendering="crispEdges" fill="#000">
<rect x="66" y="361" width="1" height="219"/>
<rect x="606" y="361" width="1" height="219"/>
<rect x="66" y="579" width="541" height="1"/>
<rect x="67" y="361" width="4" height="1"/>
<rect x="602" y="361" width="4" height="1"/>
<rect x="67" y="382" width="4" height="1"/>
<rect x="602" y="382" width="4" height="1"/>
<rect x="67" y="404" width="4" height="1"/>
<rect x="602" y="404" width="4" height="1"/>
<rect x="67" y="426" width="4" height="1"/>
<rect x="602" y="426" width="4" height="1"/>
<rect x="67" y="448" width="4" height="1"/>
<rect x="602" y="448" width="4" height="1"/>
<rect x="67" y="470" width="4" height="1"/>
<rect x="602" y="470" width="4" height="1"/>
<rect x="67" y="491" width="4" height="1"/>
<rect x="602" y="491" width="4" height="1"/>
<rect x="67" y="513" width="4" height="1"/>
<rect x="602" y="513" width="4" height="1"/>
<rect x="67" y="535" width="4" height="1"/>
<rect x="602" y="535" width="4" height="1"/>
<rect x="67" y="557" width="4" height="1"/>
<rect x="602" y="557" width="4" height="1"/>
<rect x="67" y="579" width="4" height="1"/>
<rect x="602" y="579" width="4" height="1"/>
<rect x="67" y="575" width="1" height="4"/>
<rect x="175" y="575" width="1" height="4"/>
<rect x="283" y="575" width="1" height="4"/>
<rect x="390" y="575" width="1" height="4"/>
<rect x="498" y="575" width="1" height="4"/>
<rect x="606" y="575" width="1" height="4"/>
</g>
<text x="51.5" y="364.9" font-size="10.8" text-anchor="end" fill="#000">10000000</text>
<text x="616.5" y="365.9" font-size="10.8" fill="#000">7800</text>
<text x="51.5" y="385.9" font-size="10.8" text-anchor="end" fill="#000">9000000</text>
<text x="616.5" y="386.9" font-size="10.8" fill="#000">7320</text>
<text x="51.5" y="407.9" font-size="10.8" text-anchor="end" fill="#000">8000000</text>
<text x="616.5" y="408.9" font-size="10.8" fill="#000">6840</text>
<text x="51.5" y="429.9" font-size="10.8" text-anchor="end" fill="#000">7000000</text>
<text x="616.5" y="430.9" font-size="10.8" fill="#000">6360</text>
<text x="51.5" y="451.9" font-size="10.8" text-anchor="end" fill="#000">6000000</text>
<text x="616.5" y="452.9" font-size="10.8" fill="#000">5880</text>
<text x="51.5" y="473.9" font-size="10.8" text-anchor="end" fill="#000">5000000</text>
<text x="616.5" y="474.9" font-size="10.8" fill="#000">5400</text>
<text x="51.5" y="494.9" font-size="10.8" text-anchor="end" fill="#000">4000000</text>
<text x="616.5" y="495.9" font-size="10.8" fill="#000">4920</text>
<text x="51.5" y="516.9" font-size="10.8" text-anchor="end" fill="#000">3000000</text>
<text x="616.5" y="517.9" font-size="10.8" fill="#000">4440</text>
<text x="51.5" y="538.9" font-size="10.8" text-anchor="end" fill="#000">2000000</text>
<text x="616.5" y="539.9" font-size="10.8" fill="#000">3960</text>
<text x="51.5" y="560.9" font-size="10.8" text-anchor="end" fill="#000">1000000</text>
<text x="616.5" y="561.9" font-size="10.8" fill="#000">3480</text>
<text x="51.5" y="582.9" font-size="10.8" text-anchor="end" fill="#000">0</text>
<text x="616.5" y="583.9" font-size="10.8" fill="#000">3000</text>
<text x="67.5" y="596" font-size="11.5" text-anchor="middle" fill="#000" letter-spacing="-0.9" style="font-family:'Liberation Mono',monospace">19/12/19</text>
<text x="175.3" y="596" font-size="11.5" text-anchor="middle" fill="#000" letter-spacing="-0.9" style="font-family:'Liberation Mono',monospace">20/7/19</text>
<text x="283.1" y="596" font-size="11.5" text-anchor="middle" fill="#000" letter-spacing="-0.9" style="font-family:'Liberation Mono',monospace">21/2/17</text>
<text x="390.9" y="596" font-size="11.5" text-anchor="middle" fill="#000" letter-spacing="-0.9" style="font-family:'Liberation Mono',monospace">21/9/18</text>
<text x="498.7" y="596" font-size="11.5" text-anchor="middle" fill="#000" letter-spacing="-0.9" style="font-family:'Liberation Mono',monospace">22/4/19</text>
<text x="606.5" y="596" font-size="11.5" text-anchor="middle" fill="#000" letter-spacing="-0.9" style="font-family:'Liberation Mono',monospace">22/11/18</text>
<text x="44.5" y="349" font-size="13.33" text-anchor="middle" fill="#000" style="font-family:'Noto Serif CJK SC',serif">吨</text>
<text x="612.5" y="345.5" font-size="13.33" text-anchor="middle" fill="#000" style="font-family:'Liberation Serif','Noto Serif CJK SC',serif">元/吨</text>
<text x="301" y="353" font-size="16" text-anchor="middle" font-weight="bold" fill="#ff0000" textLength="201" lengthAdjust="spacingAndGlyphs" style="font-family:'Liberation Serif','Noto Serif CJK SC',serif">2019/22年<tspan font-size="13.6">PTA</tspan>期货日交易情况</text>
<path d="M661 606 L668.5 610 L661 610z" fill="#000"/>
</svg>
<div class="tb" style="left:0px;top:305px;width:294px;height:22px"><span style="top:9px;letter-spacing:0px;margin-left:0px">11月18日加权均价5322元，与前日增加72元</span></div>
<div class="tb" style="left:427px;top:305px;width:243px;height:22px"><span style="top:9px;letter-spacing:-0.2px;margin-left:0px">11月18日TA212价5428元，与前日减少16元</span></div>
<div class="tb" style="left:0px;top:610px;width:294px;height:23px"><span style="top:9px;letter-spacing:-0.1px;margin-left:1px">11月18日PTA指数5800元，与前日增加100元</span></div>
<div class="tb" style="left:388px;top:610px;width:282px;height:23px"><span style="top:9px;letter-spacing:0px;margin-left:0px">11月18日持仓3107668手，与前日增加74223手</span></div>
</body></html>
